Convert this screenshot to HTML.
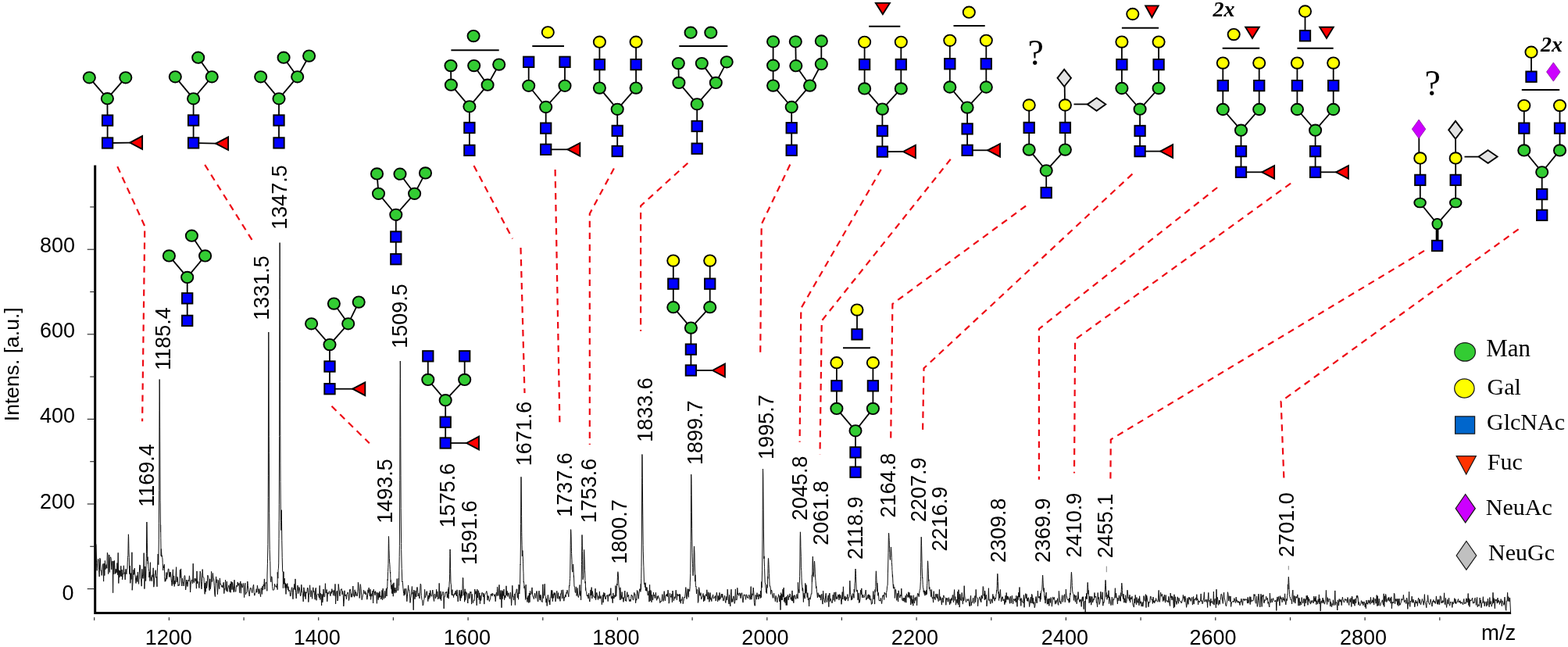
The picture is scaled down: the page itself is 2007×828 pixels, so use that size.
<!DOCTYPE html><html><head><meta charset="utf-8"><title>MALDI spectrum</title><style>html,body{margin:0;padding:0;background:#fff;}svg{display:block}</style></head><body>
<svg width="2007" height="828" viewBox="0 0 2007 828">
<rect width="2007" height="828" fill="#fff"/>
<g fill="none" stroke="#ee0a14" stroke-width="2.2" stroke-dasharray="8.4 6.6"><polyline points="150.3,213.1 185.3,289.5 182.1,539.2"/><polyline points="262.2,210.9 322.5,306.9"/><polyline points="424.5,519.8 472.8,567.2"/><polyline points="606.5,212.1 656,305.5"/><polyline points="666.5,317 671.5,503"/><polyline points="710.6,217 716.5,546.1"/><polyline points="785.9,215.5 754.8,273.5 754.8,569.1"/><polyline points="880.3,208.7 820.1,263.5 820.1,423.8"/><polyline points="1011.3,210.6 974.7,287 973.2,453.2"/><polyline points="1127.7,217 1025.3,394.5 1023.6,565.7"/><polyline points="1216.7,203.8 1051.8,410.5 1049.5,581.3"/><polyline points="1313.1,263.5 1142.4,389 1140.2,561.7"/><polyline points="1449.4,222.6 1182.5,471.3 1181,554.4"/><polyline points="1558.1,240 1329.9,420.9 1329.9,613.8"/><polyline points="1652.1,234.6 1376.1,434.5 1375,605.6"/><polyline points="1823,320.9 1421.8,562.5 1421.4,614"/><polyline points="1943.6,293.3 1639.6,513.8 1643.4,612.7"/></g>
<path d="M121.8,712 L122.6,696 L123,697.4 L123.6,720.6 L124.2,730.3 L124.8,720.3 L125.4,715.5 L126,715.8 L126.6,729.7 L127.2,738 L127.8,714.3 L128.4,715.7 L129,730.6 L129.6,730.1 L130.2,736.4 L130.8,731.7 L131.4,722.7 L132,721.5 L132.6,744.1 L133.2,721.1 L133.8,736.6 L134.4,717.5 L135,728.7 L135.6,725.2 L136.2,722.5 L136.8,727.3 L137.4,707.3 L138,709.9 L138.6,734.5 L139.2,727.6 L139.8,710 L140.4,732.4 L141,714.6 L141.6,712.8 L142.2,715.1 L142.8,728.8 L143.4,720.6 L144,718.1 L144.6,758.7 L145.2,718.2 L145.8,734.8 L146.4,717.4 L147,726.8 L147.6,734.3 L148.2,728.2 L148.8,733.4 L149.4,732.2 L150,720.5 L150.6,735.6 L151.2,707.4 L151.8,746.5 L152.4,729.7 L153,738.8 L153.6,730.4 L154.2,737.3 L154.8,724.3 L155.4,737.6 L156,729.1 L156.6,741.8 L157.2,736.5 L157.8,732.4 L158.4,723.8 L159,734.4 L159.6,732.7 L160.2,741.9 L160.8,728.3 L161.4,732.4 L162,734.7 L162.4,728.4 L162.6,728.8 L163,727.8 L163.2,719.9 L163.5,713.3 L163.8,711.1 L163.9,710.2 L164.2,692.2 L164.4,683.8 L164.6,686.9 L164.9,702.4 L165,708 L165.3,713.4 L165.6,727.3 L165.8,734.7 L166.2,726.2 L166.4,724.1 L166.8,746.3 L167.4,733.6 L168,741.5 L168.6,740.9 L168.9,706.8 L169.2,755.3 L169.8,748.6 L170.4,736.7 L171,729.2 L171.6,735.3 L172.2,727.1 L172.8,735.1 L173.4,740 L174,746.5 L174.6,740 L175.2,736.6 L175.8,744.5 L176.4,732 L177,743.9 L177.6,747.4 L178.2,735.2 L178.8,722.9 L179.4,723.8 L180,740.5 L180.6,741.1 L181.2,750.2 L181.8,728.3 L182.4,735.9 L183,740.4 L183.6,734.1 L184.2,707.7 L184.8,741.6 L184.9,753.6 L185.4,740.3 L185.9,724.9 L186,727.1 L186.5,730.9 L186.6,743.5 L187,724.3 L187.2,714.4 L187.4,708.6 L187.7,677.1 L187.8,671.2 L187.9,668 L188.1,673.1 L188.4,694.1 L188.8,718 L189,712.7 L189.3,721.6 L189.6,718.5 L189.9,725.8 L190.2,727.7 L190.8,731.4 L190.9,738.9 L191.4,731.9 L192,743.6 L192.4,719.7 L192.6,735.3 L193.2,737.8 L193.8,742 L194.4,743.8 L195,735.7 L195.6,738.3 L196.2,726.8 L196.8,751.2 L197.4,747 L198,734.9 L198.6,733.6 L199.2,729.7 L199.8,739.3 L200.4,738.1 L201,750.8 L201.2,736.1 L201.6,726.1 L202.2,709 L202.8,722.7 L203.3,690.1 L203.4,669.2 L203.7,627.6 L204,525.7 L204.2,485.5 L204.4,505 L204.5,525 L204.6,546.9 L204.7,564.9 L205.1,640.9 L205.2,643.9 L205.5,681 L205.6,671.8 L205.8,688.6 L206.1,708.8 L206.2,711.6 L206.4,702.6 L206.6,705.7 L207,712.4 L207.2,711.6 L207.3,710.9 L207.5,712 L207.6,712.7 L207.7,713.4 L208,715.1 L208.2,720.4 L208.4,722 L208.7,729.8 L208.8,725.9 L208.9,725.9 L209.4,725.3 L209.5,727 L210,723.4 L210.5,722.2 L210.6,737.6 L211.2,744.3 L211.8,740.5 L212,743.5 L212.4,738.7 L213,732.5 L213.6,741.2 L214.2,736.8 L214.8,731.8 L215.4,728 L216,728.1 L216.6,738.4 L217.2,732.2 L217.8,738.3 L218.4,732.2 L219,740.2 L219.6,745.5 L220.2,749.7 L220.8,737.2 L221.4,728.8 L222,747.6 L222.6,736.9 L223.2,750.5 L223.8,743 L224.4,747.2 L225,736.5 L225.6,725.7 L226.2,745 L226.8,738.1 L227.4,740 L228,750 L228.6,748.4 L229.2,748.5 L229.8,749.3 L230.4,729.3 L231,739.5 L231.6,727.9 L232.2,743.2 L232.8,750 L233.4,740 L234,745.6 L234.6,745.5 L235.2,750 L235.8,738.3 L236.4,736.5 L237,738.3 L237.6,755 L238.2,750.2 L238.8,742 L239.4,744.7 L240,750.6 L240.6,744.7 L241.2,742.1 L241.8,743.7 L242.4,736.8 L243,741.7 L243.6,758 L244.2,748.3 L244.8,743.6 L245.4,741.9 L246,743.7 L246.6,746.8 L247.2,721.2 L247.8,744 L248.4,745.7 L249,740.9 L249.6,740 L250.2,743.9 L250.8,740.6 L251.4,753.2 L252,730.9 L252.6,746.8 L253.2,743.8 L253.8,744.6 L254.4,749.3 L255,752.6 L255.6,743.5 L256.2,731.1 L256.8,734 L257.4,747.4 L258,753.8 L258.6,744.4 L259.2,728.6 L259.8,738.8 L260.4,738.7 L261,739.8 L261.6,753.5 L262.2,760.3 L262.8,746 L263.4,757.3 L264,743.9 L264.6,752.7 L265.2,747.9 L265.8,736.1 L266.4,737.4 L267,739.4 L267.6,752.3 L268.2,755.7 L268.8,740.9 L269.4,753.7 L270,748.2 L270.6,731.4 L271.2,744.6 L271.8,744.1 L272.4,733.5 L273,740.2 L273.6,740.6 L274.2,749.3 L274.8,760 L275.4,763.5 L276,745.4 L276.6,737.9 L277.2,746 L277.8,741.7 L278.4,760.6 L279,752.1 L279.6,742.5 L280.2,750.3 L280.8,753.7 L281.4,739.9 L282,748 L282.6,747.2 L283.2,748.8 L283.8,751.2 L284.4,749.4 L285,752.2 L285.6,748.2 L286.2,745.2 L286.8,759.6 L287.4,753.5 L288,754.3 L288.6,742.2 L289.2,750.7 L289.8,756.2 L290.4,744.2 L291,757.3 L291.6,753.3 L292.2,751.8 L292.8,748.9 L293.4,751.4 L294,757.5 L294.6,747.1 L295.2,758.3 L295.8,744.1 L296.4,745.1 L297,754.6 L297.6,745.2 L298.2,749.4 L298.8,755.9 L299.4,758 L300,742.2 L300.6,753.3 L301.2,757.1 L301.8,757.3 L302.4,750.3 L303,749 L303.6,751.1 L304.2,744.9 L304.8,749.3 L305.4,749.2 L306,746.3 L306.6,758.6 L307.2,749.2 L307.8,743.9 L308.4,759.2 L309,746.7 L309.6,750.1 L310.2,752.1 L310.8,750 L311.4,746.4 L312,751.6 L312.6,764.6 L313.2,749.5 L313.8,746.2 L314.4,761 L315,758.5 L315.6,758.5 L316.2,758.2 L316.8,744 L317.4,749.6 L318,754.7 L318.6,757.9 L319.2,763 L319.8,756.7 L320.4,752.5 L321,752.2 L321.6,753.1 L322.2,757.1 L322.8,758.7 L323.4,754.8 L324,750.3 L324.6,748.1 L325.2,758.1 L325.8,762.2 L326.4,759.7 L327,758.8 L327.6,758.4 L328.2,753.7 L328.8,758.1 L329.4,749.2 L330,753.3 L330.6,755 L331.2,760 L331.8,753.5 L332.4,756.4 L333,759.6 L333.6,763.7 L334.2,752.5 L334.8,752.7 L335.4,760.4 L336,750 L336.6,755.1 L337.2,748.2 L337.8,750.2 L338.4,740.9 L339,754.2 L339.6,747.5 L340.2,745.6 L340.8,744.9 L341.4,747.5 L341.8,756.3 L342,736 L342.4,721.7 L342.6,714.1 L342.9,696.6 L343.2,636.7 L343.3,608.2 L343.6,480 L343.8,425 L344,458.1 L344.3,558.8 L344.4,579.2 L344.7,656.3 L345,691 L345.2,703.4 L345.6,717.3 L345.8,718.7 L346.2,739.7 L346.8,744.8 L347.4,737.9 L348,738.2 L348.3,743.1 L348.6,750.3 L349.2,755.1 L349.8,755.2 L350.4,754.9 L351,754.6 L351.6,747.3 L352.2,750.5 L352.8,749.8 L353.4,750.1 L354,751.8 L354.6,747.2 L355.1,754.6 L355.2,732.3 L355.8,740.1 L356.1,729.5 L356.4,727.8 L356.7,720.9 L357,689.4 L357.2,666.6 L357.3,645.8 L357.6,558.5 L357.9,383.4 L358.1,310.6 L358.2,322 L358.3,354.2 L358.6,488.8 L358.8,557.6 L358.9,592.1 L359,616.5 L359.4,666.3 L359.5,668.6 L359.8,678.6 L360,670.7 L360.1,661.7 L360.3,652.7 L360.5,665.5 L360.6,673.1 L360.8,691.8 L361.1,706.9 L361.2,713.4 L361.7,731.3 L361.8,731.7 L362.3,731.6 L362.4,752.6 L362.6,743 L363,731.7 L363.3,745.4 L363.6,747.3 L364.2,740.1 L364.8,752.4 L365.4,746.4 L366,760.4 L366.6,747.7 L367.2,752.4 L367.8,746.6 L368.4,754.9 L369,750.7 L369.6,756.7 L370.2,755.6 L370.8,755.1 L371.4,762.7 L372,763 L372.6,758.5 L373.2,752.6 L373.8,751.6 L374.4,758.3 L375,766.7 L375.6,752.8 L376.2,753.7 L376.8,747.4 L377.4,755.1 L378,740.9 L378.6,758.5 L379.2,765.9 L379.8,757.3 L380.4,754 L381,749.1 L381.6,759.7 L382.2,756.3 L382.8,751.3 L383.4,753 L384,759 L384.6,762.9 L385.2,761.3 L385.8,748.2 L386.4,755.3 L387,758.2 L387.6,759.4 L388.2,769.9 L388.8,751.8 L389.4,754.3 L390,763.4 L390.6,757.3 L391.2,766.6 L391.8,757.8 L392.4,759.1 L393,756.8 L393.6,752 L394.2,752.9 L394.8,770.5 L395.4,761.5 L396,758.6 L396.6,748.8 L397.2,760.4 L397.8,763.9 L398.4,755.6 L399,756.9 L399.6,766.3 L400.2,757.4 L400.8,751.8 L401.4,757.7 L402,756.4 L402.6,761.8 L403.2,767.2 L403.8,753.6 L404.4,752.2 L405,768.3 L405.6,761.3 L406.2,760.5 L406.8,759.9 L407.4,760.2 L408,763.3 L408.6,765.1 L409.2,749.4 L409.8,767.4 L410.4,759.4 L411,760.1 L411.6,775 L412.2,760.5 L412.8,770.9 L413.4,765.6 L414,754 L414.6,762.7 L415.2,764 L415.8,763.5 L416.4,746.7 L417,758.1 L417.6,759 L418.2,754.5 L418.8,769.8 L419.4,758.4 L420,758.8 L420.6,760.2 L421.2,756.6 L421.8,757.1 L422.4,760.2 L423,762.7 L423.6,757.2 L424.2,759.5 L424.8,753.7 L425.4,757.3 L426,756.2 L426.6,762.2 L427.2,755.4 L427.8,757.8 L428.4,762.5 L429,747.4 L429.6,772.9 L430.2,758.5 L430.8,758 L431.4,756.1 L432,769 L432.6,766.3 L433.2,747.5 L433.8,752.9 L434.4,758.9 L435,762.8 L435.6,756.4 L436.2,754.3 L436.8,754.1 L437.4,753.6 L438,760.9 L438.6,756.6 L439.2,760.2 L439.8,775.9 L440.4,769.1 L441,755.8 L441.6,762.8 L442.2,762.2 L442.8,761 L443.4,766.8 L444,759.9 L444.6,759.5 L445.2,757.9 L445.8,760.4 L446.4,768.5 L447,766.5 L447.6,754.5 L448.2,754 L448.8,756.4 L449.4,764.2 L450,759.7 L450.6,764.2 L451.2,759 L451.8,750 L452.4,762.1 L453,762 L453.6,764.2 L454.2,754.8 L454.8,762.6 L455.4,757.4 L456,759.4 L456.6,762.2 L457.2,763 L457.8,757.2 L458.4,745.2 L459,748.1 L459.6,756.7 L460.2,765.5 L460.8,760.1 L461.4,747.7 L462,753.7 L462.6,761.2 L463.2,767.7 L463.8,764.9 L464.4,761.5 L465,759.9 L465.6,755.2 L466.2,759.4 L466.8,759.6 L467.4,756.6 L468,760.9 L468.6,758.6 L469.2,761.7 L469.8,767.2 L470.4,764.4 L471,754.7 L471.6,758.5 L472.2,752 L472.8,758.8 L473.4,763.1 L474,754.2 L474.6,767.4 L475.2,759.8 L475.8,763.1 L476.4,760.2 L477,756 L477.6,772 L478.2,754.2 L478.8,757.8 L479.4,757.5 L480,761.7 L480.6,756.5 L481.2,759 L481.8,759 L482.4,772.3 L483,758.2 L483.6,761.6 L484.2,767.6 L484.8,758.8 L485.4,765 L486,756.9 L486.6,764 L487.2,762.7 L487.8,767 L488.4,764 L489,755.4 L489.6,767.8 L490.2,753.1 L490.8,763 L491.4,766.3 L492,761.5 L492.6,756.3 L493.2,765.2 L493.8,760.1 L494.4,753.2 L494.5,756.1 L495,763 L495.5,751.3 L495.6,753.6 L495.8,750.3 L496.1,741.5 L496.2,742.6 L496.6,731.5 L496.8,726.8 L497,721.4 L497.3,695.6 L497.4,689.8 L497.5,686.4 L497.7,690.8 L497.9,702.6 L498,704.8 L498.3,714.3 L498.4,714.8 L498.6,719 L498.8,721 L498.9,722.5 L499,724.1 L499.2,728.6 L499.3,731.3 L499.5,733.8 L499.7,731.9 L499.8,739.6 L500.2,745.1 L500.4,742.5 L500.5,752 L500.8,748.7 L501,754.1 L501.6,749.1 L501.8,759.1 L502,748.8 L502.2,760 L502.8,747.1 L503.3,763.2 L503.4,755 L504,745.8 L504.6,757 L505.2,759.2 L505.8,752 L506.4,754.5 L507,758.4 L507.6,754.9 L508.2,740.6 L508.8,753.6 L509.3,755.9 L509.4,754.6 L510,754.6 L510.3,740 L510.6,749.3 L510.9,730.3 L511.2,712.5 L511.4,698.3 L511.8,614.6 L512.1,503.5 L512.3,462 L512.4,467.8 L512.5,484.8 L512.8,559.5 L513,608.8 L513.2,650.5 L513.6,695.4 L513.7,703.5 L514.2,727.5 L514.3,728.8 L514.8,744.9 L515.3,744 L515.4,745.4 L516,753.6 L516.6,759 L516.8,759.5 L517.2,762.3 L517.8,753.3 L518.4,761 L519,756.5 L519.6,753.1 L520.2,757.1 L520.8,769.7 L521.4,763.2 L522,757 L522.6,748.9 L523.2,755.2 L523.8,754.9 L524.4,759.7 L525,771.4 L525.6,765.8 L526.2,763.1 L526.8,757.3 L527.4,750.5 L528,760.3 L528.6,757.9 L529.2,780.7 L529.8,755 L530.4,757 L531,766.7 L531.6,761 L532.2,755.9 L532.8,763.9 L533.4,753.2 L534,751.4 L534.6,753.9 L535.2,763 L535.8,759.2 L536.4,763.2 L537,765.9 L537.6,756.3 L538.2,747.2 L538.8,748.6 L539.4,762.4 L540,767.7 L540.6,768.1 L541.2,775 L541.8,773.8 L542.4,767.8 L543,767.3 L543.6,754.3 L544.2,764.9 L544.8,762.9 L545.4,761.5 L546,756.7 L546.6,756.9 L547.2,763.4 L547.8,769.6 L548.4,762.1 L549,766.6 L549.6,758.9 L550.2,764.5 L550.8,755.5 L551.4,761.9 L552,762.1 L552.6,763.3 L553.2,759.9 L553.8,755 L554.4,760.6 L555,766.9 L555.6,769.5 L556.2,760 L556.8,760.5 L557.4,766 L558,764.1 L558.6,754.3 L559.2,763.7 L559.8,756.9 L560.4,766.9 L561,765.9 L561.6,765.8 L562.2,746.4 L562.8,765.6 L563.4,766.9 L564,756.6 L564.6,768.7 L565.2,761.5 L565.8,761.9 L566.4,758.3 L567,757.2 L567.6,759.2 L568.2,778.9 L568.8,763.5 L569.4,763.8 L570,757.9 L570.6,758 L571.2,758.9 L571.8,757.1 L572.4,764.9 L573,760.5 L573.1,764.2 L573.6,754.4 L574.1,766.1 L574.2,751.7 L574.7,759.9 L574.8,755.7 L575.2,744.2 L575.4,744.3 L575.6,734.7 L575.9,712.7 L576,705.6 L576.1,703 L576.3,708.8 L576.6,727.8 L577,746 L577.2,747.1 L577.5,748.2 L577.8,758.4 L578.1,761.3 L578.4,761.7 L579,754.6 L579.1,762 L579.6,761.1 L580.2,761.6 L580.6,764.5 L580.8,760.7 L581.4,761.9 L582,758.8 L582.6,760.5 L583.2,756.1 L583.8,761.6 L584.4,762.9 L585,754.8 L585.6,760.6 L586.2,769.9 L586.8,762.4 L587.4,761.9 L588,755.2 L588.6,765.2 L589.2,769.1 L589.5,760.7 L589.8,759.2 L590.4,755.2 L590.5,765.3 L591,761.3 L591.1,756.9 L591.6,762.6 L592,753.6 L592.2,746.2 L592.3,741.2 L592.5,739.2 L592.7,741.1 L592.8,740.6 L593,748.8 L593.4,758.4 L593.9,762.1 L594,757.3 L594.5,758.5 L594.6,770.2 L595.2,753.8 L595.5,768.1 L595.8,767.3 L596.4,757.1 L597,759.6 L597.6,758.8 L598.2,765.7 L598.8,772 L599.4,760.1 L600,759.3 L600.6,766.2 L601.2,764.8 L601.8,757.1 L602.4,758.7 L603,757.4 L603.6,773.1 L604.2,760.3 L604.8,766.9 L605.4,771.6 L606,768.8 L606.6,768.3 L607.2,768.8 L607.8,754 L608.4,760.2 L609,756.4 L609.6,759.1 L610.2,774.8 L610.8,754.1 L611.4,765 L612,755.7 L612.6,756.2 L613.2,767.5 L613.8,758.8 L614.4,772.7 L615,762.2 L615.6,768.5 L616.2,763.6 L616.8,758.5 L617.4,758.4 L618,760 L618.6,763.9 L619.2,759.2 L619.8,773.1 L620.4,761.4 L621,760.8 L621.6,759.7 L622.2,758.2 L622.8,756.5 L623.4,758.7 L624,768.2 L624.6,762.5 L625.2,762.6 L625.8,766.8 L626.4,769.7 L627,767.7 L627.6,767.1 L628.2,760.5 L628.8,761.7 L629.4,759.7 L630,762.9 L630.6,759.4 L631.2,760.5 L631.8,760.7 L632.4,761.1 L633,763.3 L633.6,760.6 L634.2,769.7 L634.8,762.6 L635.4,758.2 L636,762.6 L636.6,751.2 L637.2,757.5 L637.8,762.4 L638.4,755.7 L639,748.4 L639.6,764.9 L640.2,767.1 L640.8,755.5 L641.4,759.9 L642,777.7 L642.6,755.6 L643.2,766.5 L643.8,756.5 L644.4,762.4 L645,754.1 L645.6,767.6 L646.2,762 L646.8,765.2 L647.4,762.1 L648,749.8 L648.6,761.9 L649.2,756.4 L649.8,763.4 L650.4,760 L651,758.7 L651.6,761.4 L652.2,765.9 L652.8,766.3 L653.4,757.9 L654,763.2 L654.6,774.9 L655.2,766.1 L655.8,749.3 L656.4,763.4 L657,763.1 L657.6,768.1 L658.2,762.6 L658.8,759.9 L659.4,774.4 L660,758.4 L660.6,758.4 L661.2,753.9 L661.8,754 L662.4,765.1 L663,758.7 L663.6,767.2 L664,748.2 L664.2,751 L664.8,760 L665,756.4 L665.4,752 L665.6,747.6 L666,722.1 L666.1,722.6 L666.5,685 L666.6,670.6 L666.8,632 L667,610.3 L667.2,618.9 L667.5,649.1 L667.6,660.5 L667.8,681.6 L667.9,686.6 L668.1,697.8 L668.4,711.7 L668.5,708.3 L668.8,704.4 L669,705 L669.2,710 L669.5,718.1 L669.6,721.9 L669.9,731.8 L670,733.3 L670.2,744.9 L670.4,744.1 L670.8,747.5 L671,752.8 L671.4,750.3 L671.5,749.9 L672,755.7 L672.6,767.5 L673.2,748.2 L673.5,761.8 L673.8,765.7 L674.4,765.1 L675,770.5 L675.6,763.9 L676.2,762.2 L676.8,771.5 L677.4,759.1 L678,770.6 L678.6,756.3 L679.2,760.9 L679.8,760.5 L680.4,759.6 L681,751.9 L681.6,761.1 L682.2,763.8 L682.8,764.2 L683.4,766.6 L684,762.3 L684.6,759 L685.2,763.4 L685.8,765.5 L686.4,759.7 L687,756.4 L687.6,760.2 L688.2,769.6 L688.8,769.9 L689.4,760.1 L690,756.1 L690.6,765 L691.2,768.1 L691.8,761 L692.4,762.6 L693,769.8 L693.6,769.8 L694.2,770.6 L694.8,747.8 L695.4,765.6 L696,762.4 L696.6,759.9 L697.2,747.3 L697.8,762.2 L698.4,763.3 L699,771.2 L699.6,766.2 L700.2,775.5 L700.8,763.7 L701.4,761.4 L702,763.8 L702.6,770.4 L703.2,768.1 L703.8,774 L704.4,765.4 L705,764 L705.6,755.4 L706.2,765.5 L706.8,755.5 L707.4,769.6 L708,760.2 L708.6,765.3 L709.2,758.5 L709.8,761.3 L710.4,758.7 L711,769.9 L711.6,765.5 L712.2,759.8 L712.8,756.3 L713.4,766.1 L714,762.3 L714.6,758.6 L715.2,766.5 L715.8,763 L716.4,763.4 L717,769.4 L717.6,759.8 L718.2,760.2 L718.8,755.2 L719.4,766.1 L720,765.4 L720.6,754.8 L721.2,761.8 L721.8,769.2 L722.4,764.4 L723,765 L723.6,761.3 L724.2,764 L724.8,758.4 L725.4,759.3 L726,755.2 L726.6,757.3 L727.2,761 L727.6,761.1 L727.8,763.8 L728.4,753.4 L728.6,749.3 L729,750 L729.2,744.3 L729.6,740.6 L729.7,736.9 L730.1,707.8 L730.2,697.7 L730.4,684 L730.6,677.6 L730.8,679.3 L731.1,686.9 L731.4,700.9 L731.5,705.3 L731.6,708.6 L732,716.8 L732.2,728.4 L732.6,730.6 L732.7,732.1 L733.1,731.7 L733.2,728.4 L733.4,723.3 L733.6,722 L733.8,724.6 L734.1,732 L734.4,738.6 L734.5,736.5 L735,750.3 L735.1,750.1 L735.6,751.1 L736.2,757.8 L736.6,758.5 L736.8,758.5 L737.4,750.9 L738,759.9 L738.1,762.5 L738.6,759 L739.2,752.5 L739.8,762.7 L740.4,764.5 L741,761.3 L741.6,759.2 L742,748.5 L742.2,757.8 L742.8,762.5 L743,756.3 L743.4,757.1 L743.6,767.9 L744,750.9 L744.1,747.3 L744.5,722.7 L744.6,718.3 L744.8,698.3 L745,684.5 L745.2,689.7 L745.5,705.4 L745.6,716.5 L745.8,723.9 L745.9,731.8 L746.2,741.7 L746.4,737.8 L746.7,739.1 L747,729 L747.1,723.3 L747.4,708.1 L747.6,703.5 L747.8,706.5 L748,712.9 L748.1,715.2 L748.2,718 L748.5,729.4 L748.8,734.9 L749,746.3 L749.4,744.2 L749.5,755.3 L749.6,751.7 L750,756.3 L750.6,757.2 L751.2,762.5 L751.8,761.8 L752.1,763.3 L752.4,761.4 L753,765.9 L753.6,759.1 L754.2,766.6 L754.8,770.1 L755.4,763.9 L756,754.9 L756.6,761.7 L757.2,751.6 L757.8,766 L758.4,756.6 L759,760.6 L759.6,763.4 L760.2,764.1 L760.8,763.7 L761.4,765.5 L762,753.2 L762.6,767.9 L763.2,761.1 L763.8,758.4 L764.4,760.8 L765,765.8 L765.6,767.6 L766.2,762.7 L766.8,765.9 L767.4,756.9 L768,766.2 L768.6,764.3 L769.2,762.5 L769.8,766.7 L770.4,773.7 L771,768.7 L771.6,761.3 L772.2,771.1 L772.8,758.2 L773.4,763.2 L774,759.1 L774.6,765.8 L775.2,767 L775.8,764.1 L776.4,762.1 L777,761.9 L777.6,761.4 L778.2,769.6 L778.8,762.2 L779.4,760.7 L780,763.1 L780.6,759.9 L781.2,761.3 L781.8,752.6 L782.4,765.4 L783,766.2 L783.6,763 L784.2,771.7 L784.8,758.9 L785.4,765.4 L786,766 L786.6,761.9 L787.2,761.4 L787.8,764.1 L787.9,749.5 L788.4,761.1 L788.9,762.7 L789,759.4 L789.5,749.5 L789.6,747 L790,749.2 L790.2,743.4 L790.4,738.3 L790.7,732.9 L790.8,732.1 L790.9,731.7 L791.1,732.7 L791.4,736.1 L791.8,746.7 L792,748.5 L792.3,752.4 L792.6,754.8 L792.9,754.8 L793.2,765.7 L793.8,768 L793.9,751.8 L794.4,759.2 L795,766.9 L795.4,762.6 L795.6,765 L796.2,757.6 L796.8,766.1 L797.4,764.8 L798,770.4 L798.6,764.4 L799.2,764.7 L799.8,756 L800.4,769 L801,767.7 L801.6,769.6 L802.2,761.5 L802.8,757.7 L803.4,764.1 L804,761.7 L804.6,761 L805.2,768 L805.8,769.6 L806.4,767.1 L807,769.7 L807.6,766.7 L808.2,761.1 L808.8,762.6 L809.4,762.3 L810,767.1 L810.6,768.1 L811.2,765.1 L811.8,758.3 L812.4,761.3 L813,760.7 L813.6,771.7 L814.2,766.5 L814.8,768.1 L815.4,755.5 L816,756.3 L816.6,759.8 L817.2,766.3 L817.8,760.8 L818.4,756.5 L818.9,753.6 L819,755.2 L819.6,754.4 L819.9,757.3 L820.2,747.3 L820.5,754.5 L820.8,740.2 L821,725.4 L821.4,683 L821.7,611.6 L821.9,581.5 L822,583.4 L822.1,588.1 L822.4,618.8 L822.6,643.1 L822.8,659.9 L823.2,697.6 L823.3,705.1 L823.8,723.8 L823.9,725.5 L824.4,744.9 L824.9,747.9 L825,746.3 L825.6,751.5 L826.2,745.7 L826.4,755.9 L826.8,751 L827.4,756.3 L828,751.7 L828.6,757.1 L829.2,761.9 L829.8,760.1 L830.4,756.1 L831,770.2 L831.6,748.3 L832.2,768.9 L832.8,755.4 L833.4,756.9 L834,770.7 L834.6,761.3 L835.2,767.3 L835.8,767.7 L836.4,758.1 L837,762.8 L837.6,761.2 L838.2,765.5 L838.8,763.5 L839.4,758.3 L840,765 L840.6,768.3 L841.2,763.2 L841.8,766.5 L842.4,762.1 L843,764.2 L843.6,765 L844.2,765.9 L844.8,771.6 L845.4,770.2 L846,769.2 L846.6,770.1 L847.2,766.1 L847.8,760.6 L848.4,768.9 L849,769.5 L849.6,765.4 L850.2,756.6 L850.8,765.3 L851.4,768.9 L852,763.1 L852.6,760.9 L853.2,762.8 L853.8,759.9 L854.4,763.6 L855,755.1 L855.6,761.4 L856.2,772.2 L856.8,769.9 L857.4,759.2 L858,762.5 L858.6,764.1 L859.2,764.5 L859.8,760.2 L860.4,770.8 L861,756 L861.6,761.2 L862.2,768.8 L862.8,767.3 L863.4,763.8 L864,766.1 L864.6,762.9 L865.2,755.2 L865.8,761.2 L866.4,767.8 L867,759.9 L867.6,762.6 L868.2,761.2 L868.8,762.5 L869.4,760.3 L870,770 L870.6,760.6 L871.2,772.2 L871.8,767.4 L872.4,768.4 L873,767 L873.6,763.8 L874.2,772.7 L874.8,769.5 L875.4,766.4 L876,764 L876.6,765 L877.2,759.1 L877.8,751.6 L878.4,761.2 L879,766.5 L879.6,761 L880.2,753.6 L880.8,760.8 L881.4,764.3 L881.7,754.1 L882,753.9 L882.6,756.3 L882.7,756.7 L883.2,750.3 L883.3,745.1 L883.8,733.7 L884.2,692.6 L884.4,655.8 L884.5,633.6 L884.7,607.1 L884.9,612.9 L885,619.6 L885.2,638 L885.5,666.1 L885.6,676.8 L886.1,707.7 L886.2,712.1 L886.5,721.6 L886.7,726.5 L886.8,731.1 L887.1,736.7 L887.4,730.8 L887.6,731.2 L887.7,730.2 L888,719 L888.3,703.9 L888.5,699 L888.6,700.1 L888.7,702.2 L889,707.9 L889.2,720.9 L889.4,728 L889.8,744.1 L889.9,735.7 L890.4,749.7 L890.5,751 L891,750.4 L891.5,760 L891.6,757.2 L892.2,754.3 L892.8,754.6 L893,759.1 L893.4,771.4 L894,769.1 L894.6,751.7 L895.2,755.2 L895.8,762.2 L896.4,762.1 L897,758.6 L897.6,767 L898.2,764.8 L898.8,764.2 L899.4,763 L900,759.5 L900.6,770 L901.2,762 L901.8,768.8 L902.4,765.8 L903,762.3 L903.6,760.5 L904.2,763 L904.8,754.8 L905.4,762.6 L906,767 L906.6,757.8 L907.2,759.5 L907.8,770.3 L908.4,766.4 L909,758.5 L909.6,767.3 L910.2,765.7 L910.8,769.6 L911.4,763.8 L912,763.8 L912.6,760.9 L913.2,765.9 L913.8,765.9 L914.4,764.1 L915,763.9 L915.6,762.6 L916.2,769.1 L916.8,761.8 L917.4,758 L918,762.4 L918.6,770 L919.2,762.4 L919.8,767.8 L920.4,768.4 L921,758.4 L921.6,767.2 L922.2,765.7 L922.8,764.1 L923.4,760.2 L924,764.7 L924.6,760 L925.2,762.4 L925.8,769.1 L926.4,766.6 L927,766 L927.6,762.1 L928.2,768.7 L928.8,771.5 L929.4,766.9 L930,763.3 L930.6,767.9 L931.2,754.2 L931.8,762.3 L932.4,766.8 L933,773.1 L933.6,761.3 L934.2,771 L934.8,775.8 L935.4,761.5 L936,754.2 L936.6,770.5 L937.2,766.5 L937.8,770.3 L938.4,764.3 L939,762.8 L939.6,765.4 L940.2,772.4 L940.8,769.6 L941.4,753.9 L942,768.1 L942.6,767.2 L943.2,767.7 L943.8,752.3 L944.4,760.8 L945,759.3 L945.6,762.5 L946.2,760.8 L946.8,758.7 L947.4,760.3 L948,765.6 L948.6,760 L949.2,758.8 L949.8,758.9 L950.4,766.7 L951,771.1 L951.6,764.8 L952.2,760.9 L952.8,762.1 L953.4,760.9 L954,762.6 L954.6,767.3 L955.2,761 L955.8,760.9 L956.4,764.9 L957,764.2 L957.6,765.9 L958.2,762 L958.8,761.1 L959.4,762.6 L960,767.3 L960.6,763.9 L961.2,750.6 L961.8,767.2 L962.4,764.4 L963,759.7 L963.6,761.7 L964.2,752.1 L964.8,758.6 L965.4,771.7 L966,775.3 L966.6,774.9 L967.2,761.3 L967.8,764.5 L968.4,767.1 L969,758.7 L969.6,763.4 L970.2,761.7 L970.8,767 L971.4,760 L972,763.1 L972.6,761 L973.2,765.6 L973.5,756.2 L973.8,759.3 L974.4,764.6 L974.5,744.6 L975,752.2 L975.1,751 L975.6,729.9 L976,690.1 L976.2,652.7 L976.3,628.1 L976.5,600 L976.7,606.4 L976.8,613.2 L977,633.1 L977.4,677.9 L977.9,715 L978,711.8 L978.5,725.4 L978.6,727.7 L979.2,745.8 L979.5,745.9 L979.8,748.9 L980.4,755.1 L980.5,758.2 L981,757.3 L981.5,759.5 L981.6,748.2 L982.1,752.3 L982.2,751 L982.6,737.8 L982.8,740.5 L983,727.3 L983.3,717.3 L983.4,715.4 L983.5,714.4 L983.7,715.9 L984,722.4 L984.4,733.3 L984.6,734.2 L984.9,743.6 L985.2,750.2 L985.5,749.8 L985.8,750 L986.4,754 L986.5,760.4 L987,756.5 L987.6,755 L988,756.8 L988.2,758.2 L988.8,763.2 L989.4,765.4 L990,761.5 L990.6,759 L991.2,765 L991.8,765 L992.4,769.8 L993,762.4 L993.6,763.8 L994.2,767.6 L994.8,771 L995.4,764.8 L996,764.5 L996.6,760.7 L997.2,764.1 L997.8,769.9 L998.4,762.4 L999,780.6 L999.6,758.6 L1000.2,767.9 L1000.8,760.4 L1001.4,767.8 L1002,754.1 L1002.6,763.7 L1003.2,752 L1003.8,770 L1004.4,765 L1005,771.7 L1005.6,764.2 L1006.2,774.6 L1006.8,763.4 L1007.4,774.5 L1008,762.7 L1008.6,761.1 L1009.2,767.8 L1009.8,763.3 L1010.4,764.1 L1011,759.9 L1011.6,761 L1012.2,767.2 L1012.8,764.5 L1013.4,768.8 L1014,755.9 L1014.6,769.2 L1015.2,762.5 L1015.8,771.7 L1016.4,763.2 L1017,761.5 L1017.6,762.9 L1018.2,766.3 L1018.8,766.8 L1019.4,762.3 L1020,760.5 L1020.6,765.4 L1021.2,766.1 L1021.4,745.4 L1021.8,754.2 L1022.4,754.4 L1023,758.8 L1023.5,742.1 L1023.6,737.3 L1023.9,716 L1024.2,688.7 L1024.4,680.8 L1024.6,683.7 L1024.8,692 L1024.9,699.6 L1025.3,712.6 L1025.4,726.2 L1025.8,730.6 L1026,739.3 L1026.4,748.6 L1026.6,748.4 L1027.2,756.3 L1027.4,752.4 L1027.8,754 L1028.4,770.5 L1028.9,759.2 L1029,763.9 L1029.6,762.3 L1030.2,766.1 L1030.8,746.4 L1031.4,759.2 L1032,748.6 L1032.6,757.2 L1033.2,764.6 L1033.8,758.7 L1034.4,768 L1035,765.7 L1035.6,776 L1036.2,764.7 L1036.8,766.8 L1037.3,766.8 L1037.4,765.4 L1038,761.8 L1038.3,759.9 L1038.6,759.8 L1038.9,760.2 L1039.2,748.8 L1039.4,735.8 L1039.5,744.7 L1039.8,736.2 L1040.1,717.5 L1040.3,712.2 L1040.4,712.7 L1040.5,714.6 L1040.8,726.4 L1041,730.1 L1041.1,736.7 L1041.2,732.6 L1041.6,738.3 L1041.7,735.2 L1042,727.2 L1042.2,722.7 L1042.3,720.6 L1042.5,718 L1042.7,720 L1042.8,721.8 L1043,725.7 L1043.3,732.9 L1043.4,734.6 L1043.9,742.2 L1044,743.5 L1044.5,750.9 L1044.6,752.9 L1044.8,750.1 L1045.2,753.8 L1045.5,757.8 L1045.8,758.9 L1046.4,765 L1047,758.7 L1047.6,760.8 L1048.2,764.1 L1048.8,761.1 L1049.4,764.9 L1050,761.5 L1050.6,768.1 L1051.2,763.7 L1051.8,760.2 L1052.4,768.2 L1053,773.1 L1053.6,756.1 L1054.2,764.4 L1054.8,766.6 L1055.4,770.1 L1056,771.3 L1056.6,762.8 L1057.2,759.2 L1057.8,767.7 L1058.4,770.6 L1059,768.7 L1059.6,766 L1060.2,761.8 L1060.8,776.6 L1061.4,759.9 L1062,759 L1062.6,769.7 L1063.2,766.1 L1063.8,768.3 L1064.4,769.2 L1065,771.8 L1065.6,769.7 L1066.2,761.2 L1066.8,768.2 L1067.4,759.9 L1068,758 L1068.6,769.8 L1069.2,763.1 L1069.8,757.7 L1070.4,766.5 L1071,763.6 L1071.6,766.6 L1072.2,764.5 L1072.8,760.8 L1073.4,761.8 L1074,767.9 L1074.6,760.5 L1075.2,765.6 L1075.8,761.6 L1076.4,766.4 L1077,773.3 L1077.6,766.1 L1078.2,757.6 L1078.8,767 L1079.4,750.8 L1080,763.1 L1080.6,764.9 L1081.2,768.3 L1081.8,762.8 L1082.4,768.8 L1083,764.4 L1083.6,766.6 L1084.2,765.4 L1084.8,760.6 L1085.4,769.1 L1086,765.1 L1086.6,764.8 L1087.2,763.6 L1087.8,743.2 L1088.4,758.9 L1089,760.7 L1089.6,768.1 L1090.2,762.7 L1090.8,767.3 L1091.4,759.9 L1092,759.7 L1092.6,760.6 L1093,765.3 L1093.2,754.1 L1093.6,757.3 L1093.8,757.8 L1094.1,746.6 L1094.4,744.4 L1094.5,742.4 L1094.8,730.9 L1095,728 L1095.2,729.5 L1095.5,734.6 L1095.6,737.6 L1095.9,747 L1096.2,755.1 L1096.4,757.1 L1096.8,756.5 L1097,755 L1097.4,755.2 L1098,767.8 L1098.6,764.3 L1099.2,758.8 L1099.5,771.6 L1099.8,767.1 L1100.4,770.7 L1101,766.2 L1101.6,755.2 L1102.2,760.8 L1102.8,752.9 L1103.4,763.2 L1104,765 L1104.6,761 L1105.2,763.4 L1105.8,764.8 L1106.4,764.2 L1107,760.5 L1107.6,759.8 L1108.2,755.1 L1108.8,767.8 L1109.4,765 L1110,766.2 L1110.6,761.6 L1111.2,765.8 L1111.8,760.7 L1112.4,761 L1113,767.3 L1113.6,762.2 L1114.2,768.2 L1114.8,766.6 L1115.4,773.4 L1116,772.1 L1116.6,772.2 L1117.2,764.7 L1117.8,756.6 L1118.4,766.6 L1119,765.5 L1119.4,761.3 L1119.6,773.1 L1120,754.6 L1120.2,757.6 L1120.5,756.9 L1120.8,750.5 L1120.9,742.7 L1121.2,734.1 L1121.4,730.8 L1121.6,733.3 L1121.9,740.5 L1122,742.7 L1122.3,748.7 L1122.6,757 L1122.8,746.1 L1123.2,752.5 L1123.4,755.8 L1123.8,762.3 L1124.4,758.5 L1125,768 L1125.6,769 L1125.9,769 L1126.2,768.2 L1126.8,769.1 L1127.4,765.3 L1128,769.5 L1128.6,772.6 L1129.2,767.9 L1129.8,762 L1130.4,763.1 L1131,761.3 L1131.6,767.5 L1132.2,758.1 L1132.8,760.5 L1133.4,760.1 L1134,759.6 L1134.5,764.5 L1134.6,758.6 L1135.2,755.3 L1135.5,750.8 L1135.8,749.6 L1136.1,749 L1136.4,733.9 L1136.6,728 L1137,707.4 L1137.3,687.5 L1137.5,682.2 L1137.6,682.3 L1137.7,682.9 L1138,688.4 L1138.2,691.4 L1138.4,697.7 L1138.5,702.5 L1138.8,707.4 L1138.9,709.5 L1139.1,714.3 L1139.4,716.5 L1139.5,715 L1139.6,713.2 L1140,710.3 L1140.3,700.9 L1140.5,700 L1140.6,701.1 L1140.7,702.5 L1141,708.1 L1141.2,713.3 L1141.4,719.5 L1141.8,725.5 L1141.9,729.6 L1142,730.2 L1142.4,738.5 L1142.5,735.5 L1143,746.6 L1143.5,753.2 L1143.6,747.8 L1144.2,752.7 L1144.8,752.4 L1145,751.6 L1145.4,765.4 L1146,754.5 L1146.6,754.7 L1147.2,761.2 L1147.8,768.4 L1148.4,761 L1149,759.1 L1149.6,770.1 L1150.2,755.8 L1150.8,760.7 L1151.4,764.1 L1152,765.1 L1152.6,761.2 L1153.2,763 L1153.8,753.1 L1154.4,765.7 L1155,768.6 L1155.6,768.8 L1156.2,764.9 L1156.8,769.2 L1157.4,765.1 L1158,770.6 L1158.6,766.1 L1159.2,762.2 L1159.8,771.2 L1160.4,759.8 L1161,762.4 L1161.6,762 L1162.2,764.6 L1162.8,757.7 L1163.4,764.2 L1164,758.4 L1164.6,766 L1165.2,762.1 L1165.8,774 L1166.4,768.8 L1167,762.1 L1167.6,772.3 L1168.2,767 L1168.8,775.2 L1169.4,761.8 L1170,771.2 L1170.6,772.1 L1171.2,764.8 L1171.8,768.5 L1172.4,763.8 L1173,765.1 L1173.6,774.8 L1174.2,761.7 L1174.8,759.1 L1175.4,762 L1176,760.7 L1176.2,763.7 L1176.6,759.8 L1177.2,755.4 L1177.8,753.9 L1178.3,744.4 L1178.4,737.6 L1178.7,719.7 L1179,695.1 L1179.2,687.2 L1179.4,690.1 L1179.6,698.7 L1179.7,703 L1180.1,721.1 L1180.2,726.6 L1180.6,740 L1180.8,739.2 L1181.2,748.5 L1181.4,751.7 L1182,754 L1182.2,757.9 L1182.6,755.7 L1183.2,760.4 L1183.7,755.9 L1183.8,762.2 L1184.4,760.5 L1184.5,757 L1185,759.3 L1185.5,761.3 L1185.6,755.4 L1186.1,757.3 L1186.2,760.5 L1186.6,749.2 L1186.8,746.2 L1187,738 L1187.3,723 L1187.4,719.5 L1187.5,717.8 L1187.7,719.1 L1188,726.5 L1188.4,734.8 L1188.6,743.5 L1188.9,741.7 L1189.2,753.8 L1189.5,753.7 L1189.8,751.3 L1190.4,755.9 L1190.5,755 L1191,757.5 L1191.6,763.6 L1192,763.5 L1192.2,754.5 L1192.8,763.1 L1193.4,766 L1194,764.5 L1194.6,771.1 L1195.2,756.6 L1195.8,765.8 L1196.4,764.3 L1197,767.6 L1197.6,760.2 L1198.2,760.1 L1198.8,764.2 L1199.4,765.5 L1200,760.2 L1200.6,767.2 L1201.2,769.6 L1201.8,768.6 L1202.4,754.4 L1203,768.3 L1203.6,763.6 L1204.2,764.8 L1204.8,768.7 L1205.4,774.1 L1206,766 L1206.6,764.9 L1207.2,771.1 L1207.8,761.8 L1208.4,763.4 L1209,764.2 L1209.6,765.2 L1210.2,766 L1210.8,774.3 L1211.4,765.3 L1212,767.5 L1212.6,765.5 L1213.2,770.2 L1213.8,768.4 L1214.4,764.7 L1215,769.1 L1215.6,774 L1216.2,766.7 L1216.8,772.3 L1217.4,768 L1218,765.2 L1218.6,768.3 L1219.2,761.8 L1219.8,761.5 L1220.4,770.8 L1221,762.2 L1221.6,754.6 L1222.2,768.5 L1222.8,763.6 L1223.4,774.2 L1224,771.7 L1224.6,767 L1225.2,771.6 L1225.8,757.1 L1226.4,773.8 L1227,754.7 L1227.6,767.5 L1228.2,777.1 L1228.8,760.3 L1229.4,765.7 L1230,768.6 L1230.6,768.4 L1231.2,758.5 L1231.8,763.5 L1232.4,773.1 L1233,764.6 L1233.6,769 L1234.2,749.7 L1234.8,762.9 L1235.4,767.7 L1236,768.3 L1236.6,770.7 L1237.2,767.2 L1237.8,766.6 L1238.4,768.1 L1239,769.1 L1239.6,766.5 L1240.2,769.4 L1240.8,775 L1241.4,776 L1242,766.5 L1242.6,762.2 L1243.2,775.1 L1243.8,770.8 L1244.4,771.5 L1245,768.5 L1245.6,765 L1246.2,770.6 L1246.8,772.3 L1247.4,764.9 L1248,762.4 L1248.6,770.6 L1249.2,754.4 L1249.8,764.5 L1250.4,765 L1251,764.8 L1251.6,775.7 L1252.2,768.2 L1252.8,767.6 L1253.4,765.3 L1254,763.8 L1254.6,765.7 L1255.2,769.5 L1255.3,766.1 L1255.8,770.8 L1256.3,761.9 L1256.4,764.1 L1256.9,766.2 L1257,762.7 L1257.4,765.8 L1257.6,762.6 L1257.8,760 L1258.1,751.6 L1258.2,751.1 L1258.3,750.5 L1258.5,751.8 L1258.8,751.8 L1259.2,762.2 L1259.4,762.6 L1259.7,760.3 L1260,763.4 L1260.3,767.9 L1260.6,756 L1261.2,760.5 L1261.3,766.7 L1261.8,764.1 L1262.4,761.3 L1262.8,768.3 L1263,775.8 L1263.6,768.5 L1264.2,767.9 L1264.8,767.5 L1265.4,752.7 L1266,768.7 L1266.6,766.8 L1267.2,769.9 L1267.8,772.7 L1268.4,766.5 L1269,767.7 L1269.6,767.7 L1270.2,771.6 L1270.8,760.4 L1271.4,766.4 L1272,763.1 L1272.6,766.6 L1273.2,769.2 L1273.8,765.3 L1274.4,766.5 L1274.8,763.4 L1275,761 L1275.4,759.4 L1275.6,755.2 L1275.9,756.5 L1276.2,749.4 L1276.3,744.8 L1276.6,738 L1276.8,734.2 L1277,735.7 L1277.3,743.8 L1277.4,744.7 L1277.7,753.9 L1278,759.7 L1278.2,757.4 L1278.6,768.5 L1278.8,760 L1279.2,765.5 L1279.8,763 L1280.4,754.5 L1281,764.3 L1281.3,765.8 L1281.6,770 L1282.2,766.8 L1282.8,763.8 L1283.4,763.8 L1284,768.9 L1284.6,767.9 L1285.2,766.7 L1285.8,773.7 L1286.4,772.4 L1287,762.2 L1287.6,770.7 L1288.2,758.5 L1288.8,767.3 L1289.4,762.9 L1290,767.5 L1290.6,763.6 L1291.2,766.9 L1291.8,766.3 L1292.4,772.3 L1293,763.9 L1293.6,763 L1294.2,772 L1294.8,770.2 L1295.4,762.2 L1296,769.2 L1296.6,772.9 L1297.2,768.6 L1297.8,766.2 L1298.4,768 L1299,769 L1299.6,766.1 L1300.2,770.7 L1300.8,762.3 L1301.4,767.5 L1302,776.3 L1302.6,762.9 L1303.2,767.6 L1303.8,758.2 L1304.4,764.1 L1305,751.5 L1305.6,768.5 L1306.2,766.2 L1306.8,775.4 L1307.4,765.5 L1308,768.9 L1308.6,770.3 L1309.2,771 L1309.8,771.8 L1310.4,761.4 L1311,777.3 L1311.6,767 L1312.2,763.8 L1312.8,759.6 L1313.4,765.6 L1314,760.4 L1314.6,769.1 L1315.2,765.4 L1315.8,769.6 L1316.4,764.7 L1317,768.1 L1317.6,776.5 L1318.2,772.2 L1318.8,768 L1319.4,764 L1320,771.9 L1320.6,760.3 L1321.2,761.6 L1321.8,772.1 L1322.4,765.3 L1323,773.2 L1323.6,770.5 L1324.2,777.7 L1324.8,775.7 L1325.4,769.3 L1326,763.5 L1326.6,769.1 L1327.2,771.9 L1327.8,768.9 L1328.4,756.1 L1329,764.8 L1329.6,763.7 L1330.2,765.4 L1330.8,763 L1331.4,770.1 L1331.6,759.4 L1332,767.3 L1332.6,757.1 L1333.2,755.7 L1333.7,754.7 L1333.8,753.9 L1334.1,747.7 L1334.4,738.8 L1334.6,736 L1334.8,738.1 L1335,742.4 L1335.1,745.1 L1335.5,752.8 L1335.6,754 L1336,757.2 L1336.2,752.5 L1336.6,759.7 L1336.8,763 L1337.4,767.9 L1337.6,762.7 L1338,772.1 L1338.6,763.8 L1339.1,758.1 L1339.2,763 L1339.8,765.4 L1340.4,773.3 L1341,766.8 L1341.6,772.8 L1342.2,766 L1342.8,775.3 L1343.4,766 L1344,766.6 L1344.6,771.4 L1345.2,764.6 L1345.8,768.9 L1346.4,776.2 L1347,771.1 L1347.6,763.9 L1348.2,766.2 L1348.8,767.2 L1349.4,764.3 L1350,768.6 L1350.6,773.2 L1351.2,768.6 L1351.8,772.3 L1352.4,768.5 L1353,769.5 L1353.6,765.8 L1354.2,773.2 L1354.8,774.4 L1355.4,756.4 L1356,763.4 L1356.6,770.8 L1357.2,769.8 L1357.8,772.9 L1358.4,768.7 L1359,766.4 L1359.6,761.7 L1360.2,770.4 L1360.8,768.3 L1361.4,762.5 L1362,762.3 L1362.6,760.6 L1363.2,770.7 L1363.8,766.6 L1364.4,754.1 L1365,762.7 L1365.6,764.2 L1366.2,767 L1366.8,768.1 L1367.4,766.8 L1368,770.3 L1368.4,771.4 L1368.6,765.4 L1369.2,770.4 L1369.4,764.5 L1369.8,759 L1370,761.2 L1370.4,751.8 L1370.5,752.9 L1370.9,743.1 L1371,740.4 L1371.2,735 L1371.4,732.2 L1371.6,733.6 L1371.9,738.6 L1372.2,745.6 L1372.3,749.6 L1372.8,757.2 L1373.4,759.4 L1374,760.7 L1374.4,767.8 L1374.6,768.4 L1375.2,760.9 L1375.8,764.3 L1375.9,762 L1376.4,770.3 L1377,764.4 L1377.6,762.2 L1378.2,772.7 L1378.8,766.5 L1379.4,767.3 L1380,757.5 L1380.6,766 L1381.2,767.1 L1381.8,770.6 L1382.4,769.2 L1383,767 L1383.6,769.1 L1384.2,776.4 L1384.8,766.9 L1385.4,763.8 L1386,769.3 L1386.6,763.7 L1387.2,779.6 L1387.8,770.2 L1388.4,770.1 L1389,769 L1389.2,783 L1389.6,763.5 L1390.2,766.4 L1390.8,759.2 L1391.3,766.6 L1391.4,761.7 L1391.7,760.4 L1392,748.2 L1392.2,745.4 L1392.4,747.6 L1392.6,751.8 L1392.7,752.2 L1393.1,760.3 L1393.2,755.4 L1393.6,761.7 L1393.8,763.5 L1394.2,771.8 L1394.4,763.2 L1395,768.8 L1395.2,770.7 L1395.6,765.9 L1396.2,763 L1396.7,774.2 L1396.8,773.8 L1397.4,766.3 L1398,763.5 L1398.6,771.1 L1399.2,769.4 L1399.8,766.4 L1400.4,767.4 L1401,758.5 L1401.6,764.6 L1402.2,763.9 L1402.8,763.1 L1403.4,771.4 L1404,770.6 L1404.6,776.7 L1405.2,758.5 L1405.8,766.6 L1406.4,764.4 L1407,773.5 L1407.6,772.3 L1408.2,769.2 L1408.8,757.1 L1409.4,764.2 L1410,767.1 L1410.6,766.8 L1411.2,757.8 L1411.8,775.2 L1412,770.3 L1412.4,772.1 L1413,771.6 L1413.6,767.3 L1414.1,765.4 L1414.2,757.7 L1414.5,754.1 L1414.8,746.6 L1415,742.4 L1415.2,743.8 L1415.4,749 L1415.5,749.3 L1415.9,758.2 L1416,763.8 L1416.4,758.5 L1416.6,761.6 L1417,767.3 L1417.2,765.9 L1417.8,763.8 L1418,761.1 L1418.4,764.9 L1419,755.7 L1419.5,761.4 L1419.6,772.6 L1420.2,763.8 L1420.8,767 L1421.4,770.2 L1422,774.7 L1422.6,773.6 L1423.2,764.2 L1423.8,765.3 L1424.4,774.4 L1425,767 L1425.6,768 L1426.2,764.6 L1426.8,764.3 L1427.4,752.7 L1428,765.3 L1428.6,759.1 L1429.2,764.3 L1429.8,765 L1430.4,773 L1431,765.1 L1431.6,768.7 L1432.2,762.6 L1432.8,761.7 L1433.4,769.1 L1433.8,763.7 L1434,766.9 L1434.4,769.3 L1434.6,758.7 L1434.9,763.1 L1435.2,757.3 L1435.3,754.7 L1435.6,749.5 L1435.8,746.2 L1436,748.3 L1436.3,751.8 L1436.4,755.6 L1436.7,761.4 L1437,763.4 L1437.2,764.2 L1437.6,766.5 L1437.8,760 L1438.2,760.6 L1438.8,771.2 L1439.4,766 L1440,766.1 L1440.3,771.1 L1440.6,761.7 L1441.2,771.7 L1441.8,770.4 L1442.4,766.5 L1443,755.2 L1443.6,759.9 L1444.2,765.9 L1444.8,764.6 L1445.4,768.5 L1446,761.3 L1446.6,771.1 L1447.2,764.6 L1447.8,767 L1448.4,766.4 L1449,763.2 L1449.6,770.5 L1450.2,774.8 L1450.8,775.6 L1451.4,777.1 L1452,766.2 L1452.6,771.8 L1453.2,761.4 L1453.8,768.3 L1454.4,773.8 L1455,764.5 L1455.6,770.6 L1456.2,771.7 L1456.8,768.2 L1457.4,765.9 L1458,774.8 L1458.6,762.8 L1459.2,769.8 L1459.8,772.3 L1460.4,769.7 L1461,776.1 L1461.6,775.3 L1462.2,770.6 L1462.8,776.2 L1463.4,772.8 L1464,762.6 L1464.6,766.3 L1465.2,768.9 L1465.8,769.4 L1466.4,760.6 L1467,777.6 L1467.6,761.8 L1468.2,764.2 L1468.8,769.6 L1469.4,769.8 L1470,776.7 L1470.6,770.5 L1471.2,771 L1471.8,771.1 L1472.4,763.3 L1473,763.1 L1473.6,765.7 L1474.2,767.9 L1474.8,767.2 L1475.4,772.5 L1476,764 L1476.6,771 L1477.2,768.9 L1477.8,771.9 L1478.4,768.3 L1479,769.6 L1479.6,765.6 L1480.2,768.4 L1480.8,768.6 L1481.4,769.6 L1482,770.3 L1482.6,765.3 L1483.2,755.4 L1483.8,769.3 L1484.4,770.4 L1485,765.2 L1485.6,758.1 L1486.2,763 L1486.8,762.9 L1487.4,760.1 L1488,763.7 L1488.6,769.6 L1489.2,763.6 L1489.8,768.4 L1490.4,761.1 L1491,768.5 L1491.6,771.2 L1492.2,761.5 L1492.8,769.2 L1493.4,769.6 L1494,768.5 L1494.6,769.9 L1495.2,770.9 L1495.8,763.3 L1496.4,768.4 L1497,773.2 L1497.6,775.5 L1498.2,759 L1498.8,765 L1499.4,762.8 L1500,767.8 L1500.6,763.1 L1501.2,764.1 L1501.8,769.2 L1502.4,778.1 L1503,760.8 L1503.6,776.6 L1504.2,763.7 L1504.8,770 L1505.4,769.9 L1506,773.5 L1506.6,768.3 L1507.2,763.8 L1507.8,767.5 L1508.4,772.3 L1509,765.3 L1509.6,768.9 L1510.2,769.3 L1510.8,769.3 L1511.4,769.6 L1512,771.9 L1512.6,771.5 L1513.2,768.1 L1513.8,768 L1514.4,761.3 L1515,765.6 L1515.6,763.5 L1516.2,770.3 L1516.8,762.8 L1517.4,765.4 L1518,771.5 L1518.6,777.3 L1519.2,774 L1519.8,765.4 L1520.4,769.3 L1521,773.4 L1521.6,764.3 L1522.2,767.3 L1522.8,764.6 L1523.4,765.3 L1524,769.4 L1524.6,767.1 L1525.2,766.1 L1525.8,764.3 L1526.4,774.1 L1527,771.8 L1527.6,763.4 L1528.2,773.1 L1528.8,766.9 L1529.4,768 L1530,766.2 L1530.6,764.9 L1531.2,768.5 L1531.8,760.7 L1532.4,768 L1533,766.3 L1533.6,773.9 L1534.2,768.7 L1534.8,770 L1535.4,770.9 L1536,768.9 L1536.6,769 L1537.2,759.9 L1537.8,769.5 L1538.4,768.6 L1539,772.8 L1539.6,771.8 L1540.2,767.8 L1540.8,765.2 L1541.4,757.8 L1542,770.2 L1542.6,769 L1543.2,767.4 L1543.8,768.5 L1544.4,770.5 L1545,767.2 L1545.6,777.4 L1546.2,765.7 L1546.8,758.4 L1547.4,769.7 L1548,768.1 L1548.6,772.6 L1549.2,775.5 L1549.8,766 L1550.4,771.3 L1551,770.1 L1551.6,769.6 L1552.2,772.5 L1552.8,772.9 L1553.4,757 L1554,774.2 L1554.6,767.8 L1555.2,766.3 L1555.8,767.4 L1556.4,777.8 L1557,754.2 L1557.6,773.2 L1558.2,764.2 L1558.8,767.4 L1559.4,774.4 L1560,771 L1560.6,768.2 L1561.2,773.3 L1561.8,768 L1562.4,767.5 L1563,760.2 L1563.6,760.4 L1564.2,763.3 L1564.8,769.2 L1565.4,772.4 L1566,762.3 L1566.6,758 L1567.2,765.8 L1567.8,767.7 L1568.4,771.3 L1569,774.9 L1569.6,775.9 L1570.2,771.4 L1570.8,769.2 L1571.4,757.7 L1572,760.3 L1572.6,769 L1573.2,762.8 L1573.8,763.4 L1574.4,769.9 L1575,762.9 L1575.6,776.4 L1576.2,772 L1576.8,770.8 L1577.4,769.8 L1578,769.8 L1578.6,769 L1579.2,770.7 L1579.8,765.6 L1580.4,768.2 L1581,769 L1581.6,771.5 L1582.2,764.1 L1582.8,769.5 L1583.4,767.8 L1584,771.2 L1584.6,770 L1585.2,769.1 L1585.8,771.5 L1586.4,770.3 L1587,774.5 L1587.6,769.7 L1588.2,770.3 L1588.8,766.1 L1589.4,769 L1590,772.8 L1590.6,774.6 L1591.2,766.4 L1591.8,767.6 L1592.4,766.5 L1593,768.8 L1593.6,766.9 L1594.2,766.4 L1594.8,767.9 L1595.4,767.7 L1596,766.7 L1596.6,772.1 L1597.2,764.3 L1597.8,772 L1598.4,770.5 L1599,767.2 L1599.6,763.7 L1600.2,773.6 L1600.8,763.8 L1601.4,770.2 L1602,769.7 L1602.6,767.8 L1603.2,768.8 L1603.8,769.2 L1604.4,767.9 L1605,760.5 L1605.6,762.4 L1606.2,760.7 L1606.8,770.5 L1607.4,772.1 L1608,771.6 L1608.6,763.1 L1609.2,776.3 L1609.8,775.8 L1610.4,768.2 L1611,760.1 L1611.6,765.9 L1612.2,772.2 L1612.8,776.9 L1613.4,766.9 L1614,760.2 L1614.6,766.1 L1615.2,776.4 L1615.8,761.9 L1616.4,763.6 L1617,761 L1617.6,771.5 L1618.2,771.7 L1618.8,767.5 L1619.4,768.6 L1620,768.1 L1620.6,763.2 L1621.2,766.4 L1621.8,767.6 L1622.4,765.2 L1623,772.4 L1623.6,770.3 L1624.2,774.4 L1624.8,776.9 L1625.4,759.1 L1626,766.9 L1626.6,771.3 L1627.2,766.8 L1627.8,766.2 L1628.4,771 L1629,767.7 L1629.6,765.5 L1630.2,767.9 L1630.8,768.6 L1631.4,769 L1632,770.1 L1632.6,768.9 L1633.2,767.8 L1633.8,781.5 L1634.4,768.3 L1635,763.9 L1635.6,769.6 L1636.2,767.4 L1636.8,763.3 L1637.4,769.7 L1638,775.2 L1638.6,762.6 L1639.2,766.5 L1639.8,764.5 L1640.4,765.9 L1641,770.8 L1641.6,769.8 L1642.2,764.3 L1642.8,767.9 L1643.4,766.1 L1644,769.4 L1644.6,759.8 L1645.2,769.6 L1645.8,773.9 L1646.3,769.7 L1646.4,769.8 L1647,766.1 L1647.3,768.6 L1647.6,766.4 L1647.9,760.2 L1648.2,760.5 L1648.4,747.9 L1648.8,754.1 L1649.1,742.4 L1649.3,738.2 L1649.4,738.7 L1649.5,739.6 L1649.8,745.4 L1650,748.6 L1650.2,754.4 L1650.6,760.3 L1650.7,763.2 L1651.2,764.3 L1651.3,764 L1651.8,766.9 L1652.3,767.9 L1652.4,767.3 L1653,767.9 L1653.6,773 L1653.8,767.9 L1654.2,760.2 L1654.8,755.1 L1655.4,767.2 L1656,770.6 L1656.6,762.4 L1657.2,763.2 L1657.8,772.1 L1658.4,765.6 L1659,763.2 L1659.6,765.2 L1660.2,765.1 L1660.8,760.9 L1661.4,768 L1662,775.2 L1662.6,765.2 L1663.2,765.3 L1663.8,775 L1664.4,770.2 L1665,772.4 L1665.6,773.9 L1666.2,764.6 L1666.8,769.1 L1667.4,771.8 L1668,771.7 L1668.6,766.3 L1669.2,765.9 L1669.8,776 L1670.4,767.9 L1671,766.6 L1671.6,771.8 L1672.2,762.3 L1672.8,767.4 L1673.4,762 L1674,774.3 L1674.6,764.2 L1675.2,769.4 L1675.8,766.5 L1676.4,771.3 L1677,771.1 L1677.6,773.1 L1678.2,768.6 L1678.8,771.4 L1679.4,769 L1680,768.4 L1680.6,769.2 L1681.2,771.9 L1681.8,763 L1682.4,769.5 L1683,765 L1683.6,769.7 L1684.2,763.1 L1684.8,773.7 L1685.4,768.8 L1686,770.2 L1686.6,773.1 L1687.2,766.9 L1687.8,770.8 L1688.4,760.9 L1689,773 L1689.6,766 L1690.2,782.1 L1690.8,770.5 L1691.4,768.9 L1692,771.8 L1692.6,767.6 L1693.2,765 L1693.8,771.5 L1694.4,767.7 L1695,772.4 L1695.6,773.2 L1696.2,769.7 L1696.8,769.4 L1697.4,755.4 L1698,765.4 L1698.6,773.5 L1699.2,764.7 L1699.8,769.2 L1700.4,770.4 L1701,766.1 L1701.6,766.6 L1702.2,766.5 L1702.8,776.1 L1703.4,770.3 L1704,773 L1704.6,776.7 L1705.2,772.5 L1705.8,774.5 L1706.4,767.8 L1707,771.1 L1707.6,774.7 L1708.2,770.8 L1708.8,755.9 L1709.4,774.3 L1710,770.6 L1710.6,770.6 L1711.2,772.1 L1711.8,781 L1712.4,767.9 L1713,769.7 L1713.6,775.1 L1714.2,766.5 L1714.8,770.1 L1715.4,767.6 L1716,770.3 L1716.6,767.6 L1717.2,774.7 L1717.8,768.5 L1718.4,764 L1719,767.4 L1719.6,769.2 L1720.2,771 L1720.8,770.7 L1721.4,766.4 L1722,766.4 L1722.6,768.4 L1723.2,767.1 L1723.8,768.5 L1724.4,771.4 L1725,764.5 L1725.6,768 L1726.2,772.7 L1726.8,774.5 L1727.4,766.8 L1728,767.3 L1728.6,770.4 L1729.2,765.3 L1729.8,776.5 L1730.4,763 L1731,764.2 L1731.6,772.4 L1732.2,767.2 L1732.8,773.1 L1733.4,767.5 L1734,775.3 L1734.6,766 L1735.2,771.8 L1735.8,771.5 L1736.4,762.3 L1737,765.3 L1737.6,762.1 L1738.2,764.9 L1738.8,774.2 L1739.4,770.5 L1740,773.4 L1740.6,775.2 L1741.2,773.9 L1741.8,773.4 L1742.4,768.7 L1743,769.2 L1743.6,772.4 L1744.2,770.1 L1744.8,774.8 L1745.4,771.7 L1746,769.9 L1746.6,770.8 L1747.2,776.9 L1747.8,772.1 L1748.4,778.8 L1749,768.1 L1749.6,772.8 L1750.2,771.7 L1750.8,773.4 L1751.4,767.9 L1752,771.7 L1752.6,769.8 L1753.2,768.1 L1753.8,773.3 L1754.4,764.3 L1755,768.8 L1755.6,771.8 L1756.2,770.8 L1756.8,767.8 L1757.4,771.4 L1758,764.6 L1758.6,774.1 L1759.2,767.4 L1759.8,766.4 L1760.4,766.7 L1761,772.4 L1761.6,769.6 L1762.2,761.6 L1762.8,775.6 L1763.4,762.8 L1764,775.2 L1764.6,772.4 L1765.2,766.2 L1765.8,773.8 L1766.4,775.3 L1767,774.4 L1767.6,771.1 L1768.2,770.4 L1768.8,769.7 L1769.4,767.8 L1770,772.1 L1770.6,774.4 L1771.2,759.8 L1771.8,776.5 L1772.4,762.8 L1773,769.8 L1773.6,760.4 L1774.2,763.2 L1774.8,770.6 L1775.4,769.3 L1776,766.9 L1776.6,765.4 L1777.2,768.6 L1777.8,764.2 L1778.4,769.6 L1779,768.2 L1779.6,765.6 L1780.2,772.1 L1780.8,763.8 L1781.4,778.8 L1782,770.6 L1782.6,772.1 L1783.2,770.1 L1783.8,771.8 L1784.4,759.2 L1785,760.4 L1785.6,772.8 L1786.2,766.5 L1786.8,768.8 L1787.4,769.2 L1788,766.3 L1788.6,774.1 L1789.2,766.4 L1789.8,775.5 L1790.4,771 L1791,766.1 L1791.6,774.6 L1792.2,774 L1792.8,772.1 L1793.4,770.7 L1794,766.2 L1794.6,768 L1795.2,767.9 L1795.8,767.5 L1796.4,761.3 L1797,767.6 L1797.6,770.8 L1798.2,769 L1798.8,767.7 L1799.4,772.1 L1800,772.5 L1800.6,765 L1801.2,768 L1801.8,779.4 L1802.4,771.2 L1803,772.4 L1803.6,757.3 L1804.2,774.2 L1804.8,776.4 L1805.4,769.1 L1806,770.3 L1806.6,769.7 L1807.2,763.1 L1807.8,771.4 L1808.4,770.9 L1809,767 L1809.6,770.9 L1810.2,770.7 L1810.8,776.8 L1811.4,772.8 L1812,768.1 L1812.6,771.8 L1813.2,772 L1813.8,769.8 L1814.4,775.5 L1815,768.4 L1815.6,765.1 L1816.2,766.7 L1816.8,772.1 L1817.4,767 L1818,772 L1818.6,773.8 L1819.2,771.3 L1819.8,769.2 L1820.4,766.5 L1821,768.8 L1821.6,770 L1822.2,774.3 L1822.8,768.8 L1823.4,760.6 L1824,771.5 L1824.6,771.6 L1825.2,774.1 L1825.8,777.7 L1826.4,769 L1827,769.7 L1827.6,761.6 L1828.2,768.3 L1828.8,772 L1829.4,772.7 L1830,773.7 L1830.6,771.8 L1831.2,766.8 L1831.8,770.6 L1832.4,771.6 L1833,776.1 L1833.6,769.5 L1834.2,770.3 L1834.8,767.4 L1835.4,771 L1836,769.1 L1836.6,771.1 L1837.2,772.5 L1837.8,770 L1838.4,762.9 L1839,768.2 L1839.6,773.1 L1840.2,767.4 L1840.8,773.5 L1841.4,770.1 L1842,767 L1842.6,773.7 L1843.2,762.9 L1843.8,762.7 L1844.4,764 L1845,771.9 L1845.6,769.6 L1846.2,771.5 L1846.8,768.4 L1847.4,770.7 L1848,769.7 L1848.6,758.8 L1849.2,773.2 L1849.8,773.6 L1850.4,765.4 L1851,772.9 L1851.6,777.4 L1852.2,772.2 L1852.8,767.1 L1853.4,772.9 L1854,770.4 L1854.6,765.1 L1855.2,774.6 L1855.8,775.2 L1856.4,770.3 L1857,771.1 L1857.6,770.3 L1858.2,771.4 L1858.8,777.4 L1859.4,770.1 L1860,773.1 L1860.6,771.6 L1861.2,770 L1861.8,765.6 L1862.4,771.9 L1863,766.8 L1863.6,773 L1864.2,770.4 L1864.8,771.1 L1865.4,770.5 L1866,767.9 L1866.6,766.5 L1867.2,770.9 L1867.8,769.3 L1868.4,771.1 L1869,768.7 L1869.6,772.4 L1870.2,770.5 L1870.8,772.1 L1871.4,770.9 L1872,771.8 L1872.6,774 L1873.2,769 L1873.8,766.4 L1874.4,772.9 L1875,772.2 L1875.6,771.2 L1876.2,772.4 L1876.8,765.7 L1877.4,766.2 L1878,771.1 L1878.6,770.1 L1879.2,759.5 L1879.8,774.6 L1880.4,765.8 L1881,776.5 L1881.6,767.6 L1882.2,769.2 L1882.8,767.9 L1883.4,768.4 L1884,767.1 L1884.6,765 L1885.2,771.2 L1885.8,772.3 L1886.4,770 L1887,771.6 L1887.6,766.3 L1888.2,765.1 L1888.8,766.5 L1889.4,774.4 L1890,771.8 L1890.6,764.4 L1891.2,776.7 L1891.8,773.4 L1892.4,775.1 L1893,774.9 L1893.6,775.5 L1894.2,765 L1894.8,771.7 L1895.4,768.2 L1896,777.7 L1896.6,773.4 L1897.2,771.1 L1897.8,769.7 L1898.4,763.7 L1899,771.7 L1899.6,769.4 L1900.2,775.8 L1900.8,770.6 L1901.4,770.3 L1902,770.8 L1902.6,776.1 L1903.2,769.7 L1903.8,774.7 L1904.4,766.1 L1905,769.6 L1905.6,771.6 L1906.2,776.8 L1906.8,764.6 L1907.4,773 L1908,772.8 L1908.6,769.5 L1909.2,776.2 L1909.8,773.4 L1910.4,773.1 L1911,758.3 L1911.6,771.7 L1912.2,765.6 L1912.8,772.3 L1913.4,778.8 L1914,767 L1914.6,768.9 L1915.2,767.1 L1915.8,768.8 L1916.4,772.2 L1917,765.1 L1917.6,771.1 L1918.2,768.2 L1918.8,769 L1919.4,773.5 L1920,769.6 L1920.6,771.3 L1921.2,766.6 L1921.8,771.2 L1922.4,775.8 L1923,768.7 L1923.6,770.1 L1924.2,771.9 L1924.8,774.4 L1925.4,773.6 L1926,764.1 L1926.6,771.1 L1927.2,779.6 L1927.8,781.3 L1928.4,769 L1929,769.3 L1929.6,758.3 L1930.2,769.4 L1930.8,763.7 L1931.4,767.3 L1932,769.9 L1932.6,765.1 L1933.7,786" fill="none" stroke="#111" stroke-width="1.0" stroke-linejoin="round"/>
<g stroke="#888" stroke-width="1"><line x1="1416.3" y1="724.6" x2="1416.3" y2="732.2"/><line x1="1649.3" y1="724.2" x2="1649.3" y2="729.4"/></g>
<path d="M121.7,211.6 V784.6 H1933.7" fill="none" stroke="#000" stroke-width="3" stroke-linejoin="miter"/>
<g stroke="#222" stroke-width="1.1"><line x1="111.7" y1="753.6" x2="120.5" y2="753.6"/><line x1="115.2" y1="699.3" x2="120.5" y2="699.3"/><line x1="111.7" y1="645" x2="120.5" y2="645"/><line x1="115.2" y1="590.7" x2="120.5" y2="590.7"/><line x1="111.7" y1="536.4" x2="120.5" y2="536.4"/><line x1="115.2" y1="482.1" x2="120.5" y2="482.1"/><line x1="111.7" y1="427.8" x2="120.5" y2="427.8"/><line x1="115.2" y1="373.5" x2="120.5" y2="373.5"/><line x1="111.7" y1="319.2" x2="120.5" y2="319.2"/><line x1="115.2" y1="264.9" x2="120.5" y2="264.9"/></g>
<g stroke="#333" stroke-width="1.2"><line x1="120.7" y1="790" x2="120.7" y2="794"/><line x1="216.4" y1="790" x2="216.4" y2="794"/><line x1="312.1" y1="790" x2="312.1" y2="794"/><line x1="407.7" y1="790" x2="407.7" y2="794"/><line x1="503.4" y1="790" x2="503.4" y2="794"/><line x1="599.1" y1="790" x2="599.1" y2="794"/><line x1="694.8" y1="790" x2="694.8" y2="794"/><line x1="790.4" y1="790" x2="790.4" y2="794"/><line x1="886.1" y1="790" x2="886.1" y2="794"/><line x1="981.8" y1="790" x2="981.8" y2="794"/><line x1="1077.4" y1="790" x2="1077.4" y2="794"/><line x1="1173.1" y1="790" x2="1173.1" y2="794"/><line x1="1268.8" y1="790" x2="1268.8" y2="794"/><line x1="1364.4" y1="790" x2="1364.4" y2="794"/><line x1="1460.1" y1="790" x2="1460.1" y2="794"/><line x1="1555.8" y1="790" x2="1555.8" y2="794"/><line x1="1651.5" y1="790" x2="1651.5" y2="794"/><line x1="1747.1" y1="790" x2="1747.1" y2="794"/><line x1="1842.8" y1="790" x2="1842.8" y2="794"/></g>
<g font-family="Liberation Sans, sans-serif" font-size="27" fill="#000">
<text x="96" y="322.9" text-anchor="end">800</text>
<text x="96" y="432.4" text-anchor="end">600</text>
<text x="96" y="540.6" text-anchor="end">400</text>
<text x="96" y="650.6" text-anchor="end">200</text>
<text x="94.6" y="768.3" text-anchor="end">0</text>
<text x="215.8" y="825" text-anchor="middle">1200</text>
<text x="405.7" y="825" text-anchor="middle">1400</text>
<text x="597.9" y="825" text-anchor="middle">1600</text>
<text x="788.4" y="825" text-anchor="middle">1800</text>
<text x="979.4" y="825" text-anchor="middle">2000</text>
<text x="1170.9" y="825" text-anchor="middle">2200</text>
<text x="1362.9" y="825" text-anchor="middle">2400</text>
<text x="1552.5" y="825" text-anchor="middle">2600</text>
<text x="1745.1" y="825" text-anchor="middle">2800</text>
<text x="1896" y="819.4" font-size="27.5">m/z</text>
<text transform="translate(23.6,539.2) rotate(-90)" font-size="26.5">Intens. [a.u.]</text>
</g>
<g font-family="Liberation Sans, sans-serif" font-size="27" fill="#000"><text transform="translate(196.9,648.7) rotate(-90)">1169.4</text><text transform="translate(217.7,473.7) rotate(-90)">1185.4</text><text transform="translate(343.8,409.7) rotate(-90)">1331.5</text><text transform="translate(367,293.7) rotate(-90)">1347.5</text><text transform="translate(501.5,669.8) rotate(-90)">1493.5</text><text transform="translate(521.4,445.8) rotate(-90)">1509.5</text><text transform="translate(582,675.3) rotate(-90)">1575.6</text><text transform="translate(609.8,723.1) rotate(-90)">1591.6</text><text transform="translate(680.2,596.2) rotate(-90)">1671.6</text><text transform="translate(731.6,661.8) rotate(-90)">1737.6</text><text transform="translate(763.4,669.3) rotate(-90)">1753.6</text><text transform="translate(801.6,721.7) rotate(-90)">1800.7</text><text transform="translate(835.1,565.8) rotate(-90)">1833.6</text><text transform="translate(898.6,595) rotate(-90)">1899.7</text><text transform="translate(990.4,587.9) rotate(-90)">1995.7</text><text transform="translate(1033.1,666) rotate(-90)">2045.8</text><text transform="translate(1059.5,697.7) rotate(-90)">2061.8</text><text transform="translate(1104,716) rotate(-90)">2118.9</text><text transform="translate(1145.6,662.4) rotate(-90)">2164.8</text><text transform="translate(1184.5,668) rotate(-90)">2207.9</text><text transform="translate(1212.3,705.4) rotate(-90)">2216.9</text><text transform="translate(1286.7,720) rotate(-90)">2309.8</text><text transform="translate(1343.8,720) rotate(-90)">2369.9</text><text transform="translate(1383.9,713.4) rotate(-90)">2410.9</text><text transform="translate(1423.7,714.2) rotate(-90)">2455.1</text><text transform="translate(1656.1,712.9) rotate(-90)">2701.0</text></g>
<g stroke="#000" stroke-width="1.8" stroke-linecap="butt"><line x1="114.3" y1="99.3" x2="137.4" y2="126.2"/><line x1="160.8" y1="99.3" x2="137.4" y2="126.2"/><line x1="137.4" y1="126.2" x2="137.6" y2="154.1"/><line x1="137.6" y1="154.1" x2="137.6" y2="183"/><line x1="137.6" y1="183" x2="167" y2="182.6"/><line x1="253.7" y1="73.7" x2="271.2" y2="98.3"/><line x1="224.3" y1="98.3" x2="247.6" y2="126.3"/><line x1="271.2" y1="98.3" x2="247.6" y2="126.3"/><line x1="247.6" y1="126.3" x2="247.6" y2="154"/><line x1="247.6" y1="154" x2="247.6" y2="182.9"/><line x1="247.6" y1="182.9" x2="277" y2="183.7"/><line x1="363.1" y1="73.7" x2="380.7" y2="98.3"/><line x1="395.6" y1="71.6" x2="380.7" y2="98.3"/><line x1="333.7" y1="98.3" x2="357" y2="126.3"/><line x1="380.7" y1="98.3" x2="357" y2="126.3"/><line x1="357" y1="126.3" x2="357" y2="154"/><line x1="357" y1="154" x2="357" y2="182.9"/><line x1="577" y1="84.1" x2="577.4" y2="108.7"/><line x1="606.7" y1="84.1" x2="624.1" y2="108.7"/><line x1="638.7" y1="82.6" x2="624.1" y2="108.7"/><line x1="577.4" y1="108.7" x2="600.9" y2="136.3"/><line x1="624.1" y1="108.7" x2="600.9" y2="136.3"/><line x1="600.9" y1="136.3" x2="600.9" y2="163.5"/><line x1="600.9" y1="163.5" x2="600.9" y2="192.4"/><line x1="577.4" y1="64.3" x2="638.7" y2="64.3" stroke-width="2"/><line x1="676.7" y1="109.8" x2="698.7" y2="137"/><line x1="723" y1="109.8" x2="698.7" y2="137"/><line x1="676.7" y1="109.8" x2="676.7" y2="79.3"/><line x1="723" y1="109.8" x2="723" y2="79.3"/><line x1="698.7" y1="137" x2="698.7" y2="164.1"/><line x1="698.7" y1="164.1" x2="698.7" y2="191.3"/><line x1="698.7" y1="191.3" x2="727.2" y2="191.3"/><line x1="681.3" y1="58.9" x2="722" y2="58.9" stroke-width="2"/><line x1="767.4" y1="112.6" x2="790.2" y2="139.8"/><line x1="814.1" y1="112.6" x2="790.2" y2="139.8"/><line x1="767.4" y1="112.6" x2="767.4" y2="82.6"/><line x1="814.1" y1="112.6" x2="814.1" y2="82.6"/><line x1="767.4" y1="82.6" x2="767.4" y2="53.7"/><line x1="814.1" y1="82.6" x2="814.1" y2="53.7"/><line x1="790.2" y1="139.8" x2="790.2" y2="167.4"/><line x1="790.2" y1="167.4" x2="790.2" y2="193.5"/><line x1="868.3" y1="81.1" x2="868.9" y2="105.9"/><line x1="898.3" y1="81.1" x2="916.3" y2="105.9"/><line x1="930.2" y1="79.3" x2="916.3" y2="105.9"/><line x1="868.9" y1="105.9" x2="892.2" y2="133.3"/><line x1="916.3" y1="105.9" x2="892.2" y2="133.3"/><line x1="892.2" y1="133.3" x2="892.2" y2="161.5"/><line x1="892.2" y1="161.5" x2="892.2" y2="190.2"/><line x1="869.3" y1="58.9" x2="931.3" y2="58.9" stroke-width="2"/><line x1="989.6" y1="53.3" x2="989.6" y2="83.7"/><line x1="989.6" y1="83.7" x2="989.6" y2="109.6"/><line x1="1018.3" y1="53.3" x2="1018.8" y2="84.2"/><line x1="1018.8" y1="84.2" x2="1036.6" y2="109.6"/><line x1="1051.3" y1="52.5" x2="1051.3" y2="82"/><line x1="1051.3" y1="82" x2="1036.6" y2="109.6"/><line x1="989.6" y1="109.6" x2="1013.2" y2="137"/><line x1="1036.6" y1="109.6" x2="1013.2" y2="137"/><line x1="1013.2" y1="137" x2="1013.2" y2="163.7"/><line x1="1013.2" y1="163.7" x2="1013.2" y2="192.3"/><line x1="1106.6" y1="113.4" x2="1129.4" y2="139.6"/><line x1="1153.3" y1="113.4" x2="1129.4" y2="139.6"/><line x1="1106.6" y1="113.4" x2="1106.6" y2="82.5"/><line x1="1153.3" y1="113.4" x2="1153.3" y2="82.5"/><line x1="1106.6" y1="82.5" x2="1106.6" y2="53.8"/><line x1="1153.3" y1="82.5" x2="1153.3" y2="53.8"/><line x1="1129.4" y1="139.6" x2="1129.4" y2="167.5"/><line x1="1129.4" y1="167.5" x2="1129.4" y2="194.1"/><line x1="1129.4" y1="194.1" x2="1156.8" y2="194"/><line x1="1112.2" y1="33.7" x2="1152.3" y2="33.7" stroke-width="2"/><line x1="1215.8" y1="111.5" x2="1238.1" y2="137.6"/><line x1="1262.3" y1="111.5" x2="1238.1" y2="137.6"/><line x1="1215.8" y1="111.5" x2="1215.8" y2="81.7"/><line x1="1262.3" y1="111.5" x2="1262.3" y2="81.7"/><line x1="1215.8" y1="81.7" x2="1215.8" y2="51.8"/><line x1="1262.3" y1="81.7" x2="1262.3" y2="51.8"/><line x1="1238.1" y1="137.6" x2="1238.1" y2="164.9"/><line x1="1238.1" y1="164.9" x2="1238.1" y2="192.3"/><line x1="1238.1" y1="192.3" x2="1264.9" y2="192.3"/><line x1="1220.5" y1="33" x2="1260.7" y2="33" stroke-width="2"/><line x1="1317.2" y1="191.6" x2="1339.2" y2="218.3"/><line x1="1363.4" y1="191.6" x2="1339.2" y2="218.3"/><line x1="1317.2" y1="191.6" x2="1317.2" y2="163.4"/><line x1="1363.4" y1="191.6" x2="1363.4" y2="163.4"/><line x1="1317.2" y1="163.4" x2="1317.2" y2="134.5"/><line x1="1363.4" y1="163.4" x2="1363.4" y2="134.5"/><line x1="1339.2" y1="218.3" x2="1339.2" y2="246.6"/><line x1="1363" y1="134.5" x2="1362.6" y2="99.8"/><line x1="1374.5" y1="133.4" x2="1392" y2="133.4"/><line x1="1435.9" y1="113" x2="1459.1" y2="139.7"/><line x1="1483.1" y1="113" x2="1459.1" y2="139.7"/><line x1="1435.9" y1="113" x2="1435.9" y2="82.6"/><line x1="1483.1" y1="113" x2="1483.1" y2="82.6"/><line x1="1435.9" y1="82.6" x2="1435.9" y2="53.6"/><line x1="1483.1" y1="82.6" x2="1483.1" y2="53.6"/><line x1="1459.1" y1="139.7" x2="1459.1" y2="167.5"/><line x1="1459.1" y1="167.5" x2="1459.1" y2="193.6"/><line x1="1459.1" y1="193.6" x2="1486" y2="193.6"/><line x1="1435.9" y1="35.7" x2="1483.1" y2="35.7" stroke-width="2"/><line x1="1565.3" y1="140" x2="1588.5" y2="166.7"/><line x1="1611.7" y1="140" x2="1588.5" y2="166.7"/><line x1="1565.3" y1="140" x2="1565.3" y2="109.6"/><line x1="1611.7" y1="140" x2="1611.7" y2="109.6"/><line x1="1565.3" y1="109.6" x2="1565.3" y2="80.6"/><line x1="1611.7" y1="109.6" x2="1611.7" y2="80.6"/><line x1="1588.5" y1="166.7" x2="1588.5" y2="193.6"/><line x1="1588.5" y1="193.6" x2="1588.5" y2="220.3"/><line x1="1588.5" y1="220.3" x2="1616" y2="220.3"/><line x1="1564.7" y1="61.7" x2="1612.2" y2="61.7" stroke-width="2"/><line x1="1660.4" y1="140" x2="1683.6" y2="166.7"/><line x1="1706.7" y1="140" x2="1683.6" y2="166.7"/><line x1="1660.4" y1="140" x2="1660.4" y2="109.6"/><line x1="1706.7" y1="140" x2="1706.7" y2="109.6"/><line x1="1660.4" y1="109.6" x2="1660.4" y2="80.6"/><line x1="1706.7" y1="109.6" x2="1706.7" y2="80.6"/><line x1="1683.6" y1="166.7" x2="1683.6" y2="193.6"/><line x1="1683.6" y1="193.6" x2="1683.6" y2="220.3"/><line x1="1683.6" y1="220.3" x2="1710.8" y2="220.3"/><line x1="1670.5" y1="14.5" x2="1670.5" y2="45.8"/><line x1="1660.4" y1="61.7" x2="1706.7" y2="61.7" stroke-width="2"/><line x1="1816.3" y1="200" x2="1816.3" y2="165.2"/><line x1="1863.2" y1="202.5" x2="1863" y2="166.3"/><line x1="1874.5" y1="200.6" x2="1892.5" y2="200.6"/><line x1="1817.6" y1="259.5" x2="1839.6" y2="286.6"/><line x1="1863.2" y1="259.5" x2="1839.6" y2="286.6"/><line x1="1817.8" y1="259.5" x2="1817.8" y2="230.4"/><line x1="1817.8" y1="230.4" x2="1817.8" y2="202.4"/><line x1="1863.2" y1="259.5" x2="1863.2" y2="230.4"/><line x1="1863.2" y1="230.4" x2="1863.2" y2="202.4"/><line x1="1839.6" y1="286.6" x2="1839.6" y2="314.5" stroke-width="3.8"/><line x1="1950.8" y1="192.4" x2="1973.7" y2="220.3"/><line x1="1996.5" y1="192.4" x2="1973.7" y2="220.3"/><line x1="1950.8" y1="192.4" x2="1950.8" y2="164.1"/><line x1="1996.5" y1="192.4" x2="1996.5" y2="164.1"/><line x1="1950.8" y1="164.1" x2="1950.8" y2="135.1"/><line x1="1996.5" y1="164.1" x2="1996.5" y2="135.1"/><line x1="1973.7" y1="220.3" x2="1973.7" y2="248.6"/><line x1="1973.7" y1="248.6" x2="1973.7" y2="275.4"/><line x1="1960" y1="66.7" x2="1960" y2="98.2"/><line x1="1947.8" y1="115.1" x2="1996.2" y2="115.1" stroke-width="2"/><line x1="245.4" y1="301.7" x2="262.6" y2="327.4"/><line x1="216.4" y1="327.4" x2="239.7" y2="354.9"/><line x1="262.6" y1="327.4" x2="239.7" y2="354.9"/><line x1="239.7" y1="354.9" x2="239.7" y2="381.8"/><line x1="239.7" y1="381.8" x2="239.7" y2="410.4"/><line x1="427.4" y1="388.6" x2="445.7" y2="414.3"/><line x1="459.2" y1="386.6" x2="445.7" y2="414.3"/><line x1="398.6" y1="414.3" x2="422" y2="441.1"/><line x1="445.7" y1="414.3" x2="422" y2="441.1"/><line x1="422" y1="441.1" x2="422" y2="469"/><line x1="422" y1="469" x2="422" y2="497.7"/><line x1="422" y1="497.7" x2="452.2" y2="497.7"/><line x1="482.5" y1="222.4" x2="484.5" y2="247.8"/><line x1="512" y1="222.7" x2="530.6" y2="247.8"/><line x1="544.5" y1="221.4" x2="530.6" y2="247.8"/><line x1="484.5" y1="247.8" x2="506.8" y2="274.8"/><line x1="530.6" y1="247.8" x2="506.8" y2="274.8"/><line x1="506.8" y1="274.8" x2="506.8" y2="303"/><line x1="506.8" y1="303" x2="506.8" y2="331.7"/><line x1="547.8" y1="485.9" x2="570.2" y2="512.2"/><line x1="594.7" y1="485.9" x2="570.2" y2="512.2"/><line x1="547.8" y1="485.9" x2="547.8" y2="455.8"/><line x1="594.7" y1="485.9" x2="594.7" y2="455.8"/><line x1="570.2" y1="512.2" x2="570.2" y2="540.2"/><line x1="570.2" y1="540.2" x2="570.2" y2="567"/><line x1="570.2" y1="567" x2="597.9" y2="567"/><line x1="861.8" y1="393.2" x2="884.4" y2="419.6"/><line x1="908.7" y1="393.2" x2="884.4" y2="419.6"/><line x1="861.8" y1="393.2" x2="861.8" y2="363.2"/><line x1="908.7" y1="393.2" x2="908.7" y2="363.2"/><line x1="861.8" y1="363.2" x2="861.8" y2="333.6"/><line x1="908.7" y1="363.2" x2="908.7" y2="333.6"/><line x1="884.4" y1="419.6" x2="884.4" y2="447.1"/><line x1="884.4" y1="447.1" x2="884.4" y2="474"/><line x1="884.4" y1="474" x2="912.8" y2="474"/><line x1="1070.9" y1="522.9" x2="1095" y2="551.3"/><line x1="1117.4" y1="522.9" x2="1095" y2="551.3"/><line x1="1070.9" y1="522.9" x2="1070.9" y2="493.8"/><line x1="1117.4" y1="522.9" x2="1117.4" y2="493.8"/><line x1="1070.9" y1="493.8" x2="1070.9" y2="464.2"/><line x1="1117.4" y1="493.8" x2="1117.4" y2="464.2"/><line x1="1095" y1="551.3" x2="1095" y2="578.9"/><line x1="1095" y1="578.9" x2="1095" y2="604.2"/><line x1="1097" y1="396.6" x2="1097" y2="427.9"/><line x1="1079" y1="445.3" x2="1113.9" y2="445.3" stroke-width="2"/></g>
<g stroke="#000" stroke-width="1.9" stroke-linejoin="miter"><ellipse cx="114.3" cy="99.3" rx="7.6" ry="7.2" fill="#33cc33"/><ellipse cx="160.8" cy="99.3" rx="7.6" ry="7.2" fill="#33cc33"/><ellipse cx="137.4" cy="126.2" rx="7.6" ry="7.2" fill="#33cc33"/><rect x="130.9" y="147.4" width="13.4" height="13.4" fill="#0000ff"/><rect x="130.9" y="176.3" width="13.4" height="13.4" fill="#0000ff"/><polygon points="166.2,182.6 182.1,174.2 182.1,190.9" fill="#ff0000"/><ellipse cx="253.7" cy="73.7" rx="7.6" ry="7.2" fill="#33cc33"/><ellipse cx="224.3" cy="98.3" rx="7.6" ry="7.2" fill="#33cc33"/><ellipse cx="271.2" cy="98.3" rx="7.6" ry="7.2" fill="#33cc33"/><ellipse cx="247.6" cy="126.3" rx="7.6" ry="7.2" fill="#33cc33"/><rect x="240.9" y="147.3" width="13.4" height="13.4" fill="#0000ff"/><rect x="240.9" y="176.2" width="13.4" height="13.4" fill="#0000ff"/><polygon points="276.2,183.7 292.1,175.3 292.1,192" fill="#ff0000"/><ellipse cx="363.1" cy="73.7" rx="7.6" ry="7.2" fill="#33cc33"/><ellipse cx="395.6" cy="71.6" rx="7.6" ry="7.2" fill="#33cc33"/><ellipse cx="333.7" cy="98.3" rx="7.6" ry="7.2" fill="#33cc33"/><ellipse cx="380.7" cy="98.3" rx="7.6" ry="7.2" fill="#33cc33"/><ellipse cx="357" cy="126.3" rx="7.6" ry="7.2" fill="#33cc33"/><rect x="350.3" y="147.3" width="13.4" height="13.4" fill="#0000ff"/><rect x="350.3" y="176.2" width="13.4" height="13.4" fill="#0000ff"/><ellipse cx="577" cy="84.1" rx="7.6" ry="7.2" fill="#33cc33"/><ellipse cx="606.7" cy="84.1" rx="7.6" ry="7.2" fill="#33cc33"/><ellipse cx="638.7" cy="82.6" rx="7.6" ry="7.2" fill="#33cc33"/><ellipse cx="577.4" cy="108.7" rx="7.6" ry="7.2" fill="#33cc33"/><ellipse cx="624.1" cy="108.7" rx="7.6" ry="7.2" fill="#33cc33"/><ellipse cx="600.9" cy="136.3" rx="7.6" ry="7.2" fill="#33cc33"/><rect x="594.2" y="156.8" width="13.4" height="13.4" fill="#0000ff"/><rect x="594.2" y="185.7" width="13.4" height="13.4" fill="#0000ff"/><ellipse cx="606.1" cy="46.1" rx="7.6" ry="7.2" fill="#33cc33"/><ellipse cx="676.7" cy="109.8" rx="7.6" ry="7.2" fill="#33cc33"/><ellipse cx="723" cy="109.8" rx="7.6" ry="7.2" fill="#33cc33"/><rect x="670" y="72.6" width="13.4" height="13.4" fill="#0000ff"/><rect x="716.3" y="72.6" width="13.4" height="13.4" fill="#0000ff"/><ellipse cx="698.7" cy="137" rx="7.6" ry="7.2" fill="#33cc33"/><rect x="692" y="157.4" width="13.4" height="13.4" fill="#0000ff"/><rect x="692" y="184.6" width="13.4" height="13.4" fill="#0000ff"/><polygon points="726.4,191.3 742.3,183 742.3,199.7" fill="#ff0000"/><ellipse cx="701.3" cy="41.3" rx="7.6" ry="7.2" fill="#ffff00"/><ellipse cx="767.4" cy="112.6" rx="7.6" ry="7.2" fill="#33cc33"/><ellipse cx="814.1" cy="112.6" rx="7.6" ry="7.2" fill="#33cc33"/><rect x="760.7" y="75.9" width="13.4" height="13.4" fill="#0000ff"/><rect x="807.4" y="75.9" width="13.4" height="13.4" fill="#0000ff"/><ellipse cx="767.4" cy="53.7" rx="7.6" ry="7.2" fill="#ffff00"/><ellipse cx="814.1" cy="53.7" rx="7.6" ry="7.2" fill="#ffff00"/><ellipse cx="790.2" cy="139.8" rx="7.6" ry="7.2" fill="#33cc33"/><rect x="783.5" y="160.7" width="13.4" height="13.4" fill="#0000ff"/><rect x="783.5" y="186.8" width="13.4" height="13.4" fill="#0000ff"/><ellipse cx="868.3" cy="81.1" rx="7.6" ry="7.2" fill="#33cc33"/><ellipse cx="898.3" cy="81.1" rx="7.6" ry="7.2" fill="#33cc33"/><ellipse cx="930.2" cy="79.3" rx="7.6" ry="7.2" fill="#33cc33"/><ellipse cx="868.9" cy="105.9" rx="7.6" ry="7.2" fill="#33cc33"/><ellipse cx="916.3" cy="105.9" rx="7.6" ry="7.2" fill="#33cc33"/><ellipse cx="892.2" cy="133.3" rx="7.6" ry="7.2" fill="#33cc33"/><rect x="885.5" y="154.8" width="13.4" height="13.4" fill="#0000ff"/><rect x="885.5" y="183.5" width="13.4" height="13.4" fill="#0000ff"/><ellipse cx="884.1" cy="41.7" rx="7.6" ry="7.2" fill="#33cc33"/><ellipse cx="909.8" cy="41.7" rx="7.6" ry="7.2" fill="#33cc33"/><ellipse cx="989.6" cy="53.3" rx="7.6" ry="7.2" fill="#33cc33"/><ellipse cx="1018.3" cy="53.3" rx="7.6" ry="7.2" fill="#33cc33"/><ellipse cx="1051.3" cy="52.5" rx="7.6" ry="7.2" fill="#33cc33"/><ellipse cx="989.6" cy="83.7" rx="7.6" ry="7.2" fill="#33cc33"/><ellipse cx="1018.8" cy="84.2" rx="7.6" ry="7.2" fill="#33cc33"/><ellipse cx="1051.3" cy="82" rx="7.6" ry="7.2" fill="#33cc33"/><ellipse cx="989.6" cy="109.6" rx="7.6" ry="7.2" fill="#33cc33"/><ellipse cx="1036.6" cy="109.6" rx="7.6" ry="7.2" fill="#33cc33"/><ellipse cx="1013.2" cy="137" rx="7.6" ry="7.2" fill="#33cc33"/><rect x="1006.5" y="157" width="13.4" height="13.4" fill="#0000ff"/><rect x="1006.5" y="185.6" width="13.4" height="13.4" fill="#0000ff"/><ellipse cx="1106.6" cy="113.4" rx="7.6" ry="7.2" fill="#33cc33"/><ellipse cx="1153.3" cy="113.4" rx="7.6" ry="7.2" fill="#33cc33"/><rect x="1099.9" y="75.8" width="13.4" height="13.4" fill="#0000ff"/><rect x="1146.6" y="75.8" width="13.4" height="13.4" fill="#0000ff"/><ellipse cx="1106.6" cy="53.8" rx="7.6" ry="7.2" fill="#ffff00"/><ellipse cx="1153.3" cy="53.8" rx="7.6" ry="7.2" fill="#ffff00"/><ellipse cx="1129.4" cy="139.6" rx="7.6" ry="7.2" fill="#33cc33"/><rect x="1122.7" y="160.8" width="13.4" height="13.4" fill="#0000ff"/><rect x="1122.7" y="187.4" width="13.4" height="13.4" fill="#0000ff"/><polygon points="1156,194 1171.9,185.7 1171.9,202.3" fill="#ff0000"/><polygon points="1120.9,3.9 1138.9,3.9 1129.9,18.3" fill="#ff0000"/><ellipse cx="1215.8" cy="111.5" rx="7.6" ry="7.2" fill="#33cc33"/><ellipse cx="1262.3" cy="111.5" rx="7.6" ry="7.2" fill="#33cc33"/><rect x="1209.1" y="75" width="13.4" height="13.4" fill="#0000ff"/><rect x="1255.6" y="75" width="13.4" height="13.4" fill="#0000ff"/><ellipse cx="1215.8" cy="51.8" rx="7.6" ry="7.2" fill="#ffff00"/><ellipse cx="1262.3" cy="51.8" rx="7.6" ry="7.2" fill="#ffff00"/><ellipse cx="1238.1" cy="137.6" rx="7.6" ry="7.2" fill="#33cc33"/><rect x="1231.4" y="158.2" width="13.4" height="13.4" fill="#0000ff"/><rect x="1231.4" y="185.6" width="13.4" height="13.4" fill="#0000ff"/><polygon points="1264.1,192.3 1280,184 1280,200.7" fill="#ff0000"/><ellipse cx="1240.3" cy="15.7" rx="7.6" ry="7.2" fill="#ffff00"/><ellipse cx="1317.2" cy="191.6" rx="7.6" ry="7.2" fill="#33cc33"/><ellipse cx="1363.4" cy="191.6" rx="7.6" ry="7.2" fill="#33cc33"/><rect x="1310.5" y="156.7" width="13.4" height="13.4" fill="#0000ff"/><rect x="1356.7" y="156.7" width="13.4" height="13.4" fill="#0000ff"/><ellipse cx="1317.2" cy="134.5" rx="7.6" ry="7.2" fill="#ffff00"/><ellipse cx="1363.4" cy="134.5" rx="7.6" ry="7.2" fill="#ffff00"/><ellipse cx="1339.2" cy="218.3" rx="7.6" ry="7.2" fill="#33cc33"/><rect x="1332.5" y="239.9" width="13.4" height="13.4" fill="#0000ff"/><polygon points="1362.2,88.8 1371,99.8 1362.2,110.8 1353.5,99.8" fill="#e3e3e3"/><polygon points="1403.6,125.3 1415.3,133.6 1403.6,141.8 1391.8,133.6" fill="#e3e3e3"/><ellipse cx="1435.9" cy="113" rx="7.6" ry="7.2" fill="#33cc33"/><ellipse cx="1483.1" cy="113" rx="7.6" ry="7.2" fill="#33cc33"/><rect x="1429.2" y="75.9" width="13.4" height="13.4" fill="#0000ff"/><rect x="1476.4" y="75.9" width="13.4" height="13.4" fill="#0000ff"/><ellipse cx="1435.9" cy="53.6" rx="7.6" ry="7.2" fill="#ffff00"/><ellipse cx="1483.1" cy="53.6" rx="7.6" ry="7.2" fill="#ffff00"/><ellipse cx="1459.1" cy="139.7" rx="7.6" ry="7.2" fill="#33cc33"/><rect x="1452.4" y="160.8" width="13.4" height="13.4" fill="#0000ff"/><rect x="1452.4" y="186.9" width="13.4" height="13.4" fill="#0000ff"/><polygon points="1485.2,193.6 1501.1,185.2 1501.1,201.9" fill="#ff0000"/><ellipse cx="1449.8" cy="18" rx="7.6" ry="7.2" fill="#ffff00"/><polygon points="1466.2,7.4 1482.7,7.4 1474.4,22.3" fill="#ff0000"/><ellipse cx="1565.3" cy="140" rx="7.6" ry="7.2" fill="#33cc33"/><ellipse cx="1611.7" cy="140" rx="7.6" ry="7.2" fill="#33cc33"/><rect x="1558.6" y="102.9" width="13.4" height="13.4" fill="#0000ff"/><rect x="1605" y="102.9" width="13.4" height="13.4" fill="#0000ff"/><ellipse cx="1565.3" cy="80.6" rx="7.6" ry="7.2" fill="#ffff00"/><ellipse cx="1611.7" cy="80.6" rx="7.6" ry="7.2" fill="#ffff00"/><ellipse cx="1588.5" cy="166.7" rx="7.6" ry="7.2" fill="#33cc33"/><rect x="1581.8" y="186.9" width="13.4" height="13.4" fill="#0000ff"/><rect x="1581.8" y="213.6" width="13.4" height="13.4" fill="#0000ff"/><polygon points="1615.2,220.3 1631.1,212 1631.1,228.7" fill="#ff0000"/><ellipse cx="1579.2" cy="44.1" rx="7.6" ry="7.2" fill="#ffff00"/><polygon points="1594.2,34.7 1611.8,34.7 1603,49" fill="#ff0000"/><ellipse cx="1660.4" cy="140" rx="7.6" ry="7.2" fill="#33cc33"/><ellipse cx="1706.7" cy="140" rx="7.6" ry="7.2" fill="#33cc33"/><rect x="1653.7" y="102.9" width="13.4" height="13.4" fill="#0000ff"/><rect x="1700" y="102.9" width="13.4" height="13.4" fill="#0000ff"/><ellipse cx="1660.4" cy="80.6" rx="7.6" ry="7.2" fill="#ffff00"/><ellipse cx="1706.7" cy="80.6" rx="7.6" ry="7.2" fill="#ffff00"/><ellipse cx="1683.6" cy="166.7" rx="7.6" ry="7.2" fill="#33cc33"/><rect x="1676.9" y="186.9" width="13.4" height="13.4" fill="#0000ff"/><rect x="1676.9" y="213.6" width="13.4" height="13.4" fill="#0000ff"/><polygon points="1710,220.3 1725.9,212 1725.9,228.7" fill="#ff0000"/><ellipse cx="1670.5" cy="14.5" rx="7.6" ry="7.2" fill="#ffff00"/><rect x="1663.8" y="39.1" width="13.4" height="13.4" fill="#0000ff"/><polygon points="1689.2,34.7 1706.8,34.7 1698,49" fill="#ff0000"/><rect x="1811.1" y="223.7" width="13.4" height="13.4" fill="#0000ff"/><ellipse cx="1817.8" cy="202.4" rx="7.6" ry="7.2" fill="#ffff00"/><rect x="1856.5" y="223.7" width="13.4" height="13.4" fill="#0000ff"/><ellipse cx="1863.2" cy="202.4" rx="7.6" ry="7.2" fill="#ffff00"/><ellipse cx="1817.6" cy="259.5" rx="7.3" ry="5.9" fill="#33cc33"/><ellipse cx="1863.2" cy="259.5" rx="7.3" ry="5.9" fill="#33cc33"/><ellipse cx="1839.6" cy="286.6" rx="6.2" ry="6.7" fill="#33cc33"/><rect x="1832.9" y="307.8" width="13.4" height="13.4" fill="#0000ff"/><polygon points="1816.1,153 1824.8,165.2 1816.1,177.3 1807.3,165.2" fill="#cc00ff" stroke="#7a1090" stroke-width="0.7"/><polygon points="1863,154.8 1871.8,166.3 1863,177.8 1854.2,166.3" fill="#e3e3e3"/><polygon points="1904.6,192.2 1916.6,200.5 1904.6,208.8 1892.6,200.5" fill="#e3e3e3"/><ellipse cx="1950.8" cy="192.4" rx="7.6" ry="7.2" fill="#33cc33"/><ellipse cx="1996.5" cy="192.4" rx="7.6" ry="7.2" fill="#33cc33"/><rect x="1944.1" y="157.4" width="13.4" height="13.4" fill="#0000ff"/><rect x="1989.8" y="157.4" width="13.4" height="13.4" fill="#0000ff"/><ellipse cx="1950.8" cy="135.1" rx="7.6" ry="7.2" fill="#ffff00"/><ellipse cx="1996.5" cy="135.1" rx="7.6" ry="7.2" fill="#ffff00"/><ellipse cx="1973.7" cy="220.3" rx="7.6" ry="7.2" fill="#33cc33"/><rect x="1967" y="241.9" width="13.4" height="13.4" fill="#0000ff"/><rect x="1967" y="268.7" width="13.4" height="13.4" fill="#0000ff"/><ellipse cx="1960" cy="66.7" rx="7.6" ry="7.2" fill="#ffff00"/><rect x="1953.3" y="91.5" width="13.4" height="13.4" fill="#0000ff"/><polygon points="1988.3,79.9 1997.1,92 1988.3,104.1 1979.5,92" fill="#cc00ff" stroke="#7a1090" stroke-width="0.7"/><ellipse cx="245.4" cy="301.7" rx="7.6" ry="7.2" fill="#33cc33"/><ellipse cx="216.4" cy="327.4" rx="7.6" ry="7.2" fill="#33cc33"/><ellipse cx="262.6" cy="327.4" rx="7.6" ry="7.2" fill="#33cc33"/><ellipse cx="239.7" cy="354.9" rx="7.6" ry="7.2" fill="#33cc33"/><rect x="233" y="375.1" width="13.4" height="13.4" fill="#0000ff"/><rect x="233" y="403.7" width="13.4" height="13.4" fill="#0000ff"/><ellipse cx="427.4" cy="388.6" rx="7.6" ry="7.2" fill="#33cc33"/><ellipse cx="459.2" cy="386.6" rx="7.6" ry="7.2" fill="#33cc33"/><ellipse cx="398.6" cy="414.3" rx="7.6" ry="7.2" fill="#33cc33"/><ellipse cx="445.7" cy="414.3" rx="7.6" ry="7.2" fill="#33cc33"/><ellipse cx="422" cy="441.1" rx="7.6" ry="7.2" fill="#33cc33"/><rect x="415.3" y="462.3" width="13.4" height="13.4" fill="#0000ff"/><rect x="415.3" y="491" width="13.4" height="13.4" fill="#0000ff"/><polygon points="451.4,497.7 467.3,489.3 467.3,506.1" fill="#ff0000"/><ellipse cx="482.5" cy="222.4" rx="7.6" ry="7.2" fill="#33cc33"/><ellipse cx="512" cy="222.7" rx="7.6" ry="7.2" fill="#33cc33"/><ellipse cx="544.5" cy="221.4" rx="7.6" ry="7.2" fill="#33cc33"/><ellipse cx="484.5" cy="247.8" rx="7.6" ry="7.2" fill="#33cc33"/><ellipse cx="530.6" cy="247.8" rx="7.6" ry="7.2" fill="#33cc33"/><ellipse cx="506.8" cy="274.8" rx="7.6" ry="7.2" fill="#33cc33"/><rect x="500.1" y="296.3" width="13.4" height="13.4" fill="#0000ff"/><rect x="500.1" y="325" width="13.4" height="13.4" fill="#0000ff"/><ellipse cx="547.8" cy="485.9" rx="7.6" ry="7.2" fill="#33cc33"/><ellipse cx="594.7" cy="485.9" rx="7.6" ry="7.2" fill="#33cc33"/><rect x="541.1" y="449.1" width="13.4" height="13.4" fill="#0000ff"/><rect x="588" y="449.1" width="13.4" height="13.4" fill="#0000ff"/><ellipse cx="570.2" cy="512.2" rx="7.6" ry="7.2" fill="#33cc33"/><rect x="563.5" y="533.5" width="13.4" height="13.4" fill="#0000ff"/><rect x="563.5" y="560.3" width="13.4" height="13.4" fill="#0000ff"/><polygon points="597.1,567 613,558.6 613,575.4" fill="#ff0000"/><ellipse cx="861.8" cy="393.2" rx="7.6" ry="7.2" fill="#33cc33"/><ellipse cx="908.7" cy="393.2" rx="7.6" ry="7.2" fill="#33cc33"/><rect x="855.1" y="356.5" width="13.4" height="13.4" fill="#0000ff"/><rect x="902" y="356.5" width="13.4" height="13.4" fill="#0000ff"/><ellipse cx="861.8" cy="333.6" rx="7.6" ry="7.2" fill="#ffff00"/><ellipse cx="908.7" cy="333.6" rx="7.6" ry="7.2" fill="#ffff00"/><ellipse cx="884.4" cy="419.6" rx="7.6" ry="7.2" fill="#33cc33"/><rect x="877.7" y="440.4" width="13.4" height="13.4" fill="#0000ff"/><rect x="877.7" y="467.3" width="13.4" height="13.4" fill="#0000ff"/><polygon points="912,474 927.9,465.6 927.9,482.4" fill="#ff0000"/><ellipse cx="1070.9" cy="522.9" rx="7.6" ry="7.2" fill="#33cc33"/><ellipse cx="1117.4" cy="522.9" rx="7.6" ry="7.2" fill="#33cc33"/><rect x="1064.2" y="487.1" width="13.4" height="13.4" fill="#0000ff"/><rect x="1110.7" y="487.1" width="13.4" height="13.4" fill="#0000ff"/><ellipse cx="1070.9" cy="464.2" rx="7.6" ry="7.2" fill="#ffff00"/><ellipse cx="1117.4" cy="464.2" rx="7.6" ry="7.2" fill="#ffff00"/><ellipse cx="1095" cy="551.3" rx="7.6" ry="7.2" fill="#33cc33"/><rect x="1088.3" y="572.2" width="13.4" height="13.4" fill="#0000ff"/><rect x="1088.3" y="597.5" width="13.4" height="13.4" fill="#0000ff"/><ellipse cx="1097" cy="396.6" rx="7.6" ry="7.2" fill="#ffff00"/><rect x="1090.3" y="421.2" width="13.4" height="13.4" fill="#0000ff"/></g>
<g font-family="Liberation Serif, serif" fill="#000"><text x="1315.5" y="83.1" font-size="46">?</text><text x="1823.5" y="122.4" font-size="46">?</text><text x="1552.5" y="20.8" font-size="28" font-weight="bold" font-style="italic">2x</text><text x="1972" y="65.9" font-size="28" font-weight="bold" font-style="italic">2x</text></g>
<g stroke="#1a1a1a" stroke-width="1.25">
<ellipse cx="1875.1" cy="450.4" rx="13.3" ry="11.8" fill="#33cc33"/>
<ellipse cx="1874.4" cy="497.0" rx="12.7" ry="12.1" fill="#ffff00"/>
<rect x="1862.6" y="532.9" width="25" height="22.2" fill="#0066cc"/>
<polygon points="1864.2,583.6 1889.3,583.6 1876.7,607.0" fill="#ff3300"/>
<polygon points="1875.7,632.5 1888.3,650.7 1875.7,668.8 1863.2,650.7" fill="#cc00ff"/>
<polygon points="1876.9,692.5 1889.7,711.0 1876.9,729.1 1864.2,711.0" fill="#c0c0c0"/>
</g>
<g font-family="Liberation Serif, serif" font-size="30" fill="#000">
<text x="1902.3" y="456.0" font-size="31">Man</text>
<text x="1903.5" y="504.5">Gal</text>
<text x="1903" y="549.8">GlcNAc</text>
<text x="1903.8" y="601.1">Fuc</text>
<text x="1901.8" y="658.5">NeuAc</text>
<text x="1905" y="717.1">NeuGc</text>
</g>
</svg></body></html>
